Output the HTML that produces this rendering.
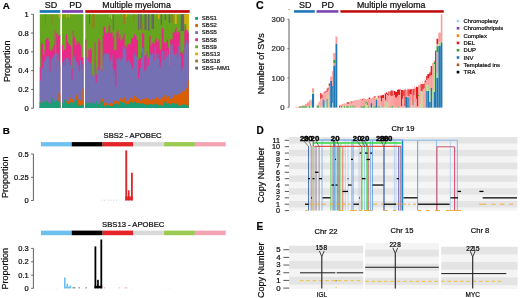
<!DOCTYPE html>
<html lang="en"><head><meta charset="utf-8"><title>Figure</title>
<style>
html,body{margin:0;padding:0;background:#fff;}
body{width:520px;height:298px;overflow:hidden;}
svg{display:block;font-family:"Liberation Sans",Arial,Helvetica,sans-serif;filter:blur(0.3px);}
text{stroke:#111;stroke-width:0.22px;paint-order:stroke fill;}
</style></head><body>
<svg width="520" height="298" viewBox="0 0 520 298">
<rect x="0" y="0" width="520" height="298" fill="#ffffff"/>
<text x="2.80" y="8.80" font-size="9.8" text-anchor="start" font-weight="bold" fill="#000">A</text>
<text x="2.80" y="133.90" font-size="9.8" text-anchor="start" font-weight="bold" fill="#000">B</text>
<text x="256.00" y="9.10" font-size="10.6" text-anchor="start" font-weight="bold" fill="#000">C</text>
<text x="256.60" y="133.50" font-size="10" text-anchor="start" font-weight="bold" fill="#000">D</text>
<text x="256.60" y="230.10" font-size="10" text-anchor="start" font-weight="bold" fill="#000">E</text>
<g id="pA">
<rect x="39.80" y="14.20" width="20.50" height="93.80" fill="#66a61e"/>
<path d="M39.80,108.00L39.80,67.00L40.80,67.00L40.80,42.50L41.80,42.50L41.80,44.00L43.20,44.00L43.20,55.00L44.40,55.00L44.40,50.00L45.30,50.00L45.30,40.00L46.30,40.00L46.30,38.26L47.45,38.26L47.45,38.33L48.60,38.33L48.60,41.00L49.60,41.00L49.60,50.00L50.60,50.00L50.60,51.00L51.60,51.00L51.60,47.42L52.55,47.42L52.55,50.46L53.50,50.46L53.50,45.00L54.60,45.00L54.60,30.00L55.40,30.00L55.40,68.00L56.20,68.00L56.20,33.00L57.40,33.00L57.40,36.00L58.50,36.00L58.50,34.95L59.40,34.95L59.40,34.71L60.30,34.71L60.30,108.00Z" fill="#e7298a"/>
<path d="M39.80,108.00L39.80,81.00L40.80,81.00L40.80,58.00L41.80,58.00L41.80,68.00L43.20,68.00L43.20,61.00L44.40,61.00L44.40,61.60L45.30,61.60L45.30,56.00L46.30,56.00L46.30,57.62L47.45,57.62L47.45,55.94L48.60,55.94L48.60,57.00L49.60,57.00L49.60,71.50L50.60,71.50L50.60,60.00L51.60,60.00L51.60,58.15L52.55,58.15L52.55,56.52L53.50,56.52L53.50,55.00L54.60,55.00L54.60,53.50L55.40,53.50L55.40,68.50L56.20,68.50L56.20,53.50L57.40,53.50L57.40,53.50L58.50,53.50L58.50,59.77L59.40,59.77L59.40,65.82L60.30,65.82L60.30,108.00Z" fill="#7570b3"/>
<path d="M39.80,108.00L39.80,102.20L40.85,102.20L40.85,102.39L41.90,102.39L41.90,102.47L42.95,102.47L42.95,102.71L44.00,102.71L44.00,101.58L45.00,101.58L45.00,101.88L46.00,101.88L46.00,100.45L47.00,100.45L47.00,101.14L48.00,101.14L48.00,103.31L49.00,103.31L49.00,102.84L50.00,102.84L50.00,103.24L51.00,103.24L51.00,98.18L52.00,98.18L52.00,98.75L53.00,98.75L53.00,101.59L54.00,101.59L54.00,102.07L55.00,102.07L55.00,102.12L56.00,102.12L56.00,100.22L57.20,100.22L57.20,100.55L58.40,100.55L58.40,93.00L59.40,93.00L59.40,94.18L60.30,94.18L60.30,108.00Z" fill="#d95f02"/>
<path d="M39.80,108.00L39.80,102.20L40.85,102.20L40.85,102.39L41.90,102.39L41.90,102.47L42.95,102.47L42.95,102.71L44.00,102.71L44.00,101.58L45.00,101.58L45.00,101.88L46.00,101.88L46.00,100.45L47.00,100.45L47.00,101.14L48.00,101.14L48.00,103.31L49.00,103.31L49.00,102.84L50.00,102.84L50.00,103.24L51.00,103.24L51.00,98.18L52.00,98.18L52.00,98.75L53.00,98.75L53.00,101.59L54.00,101.59L54.00,102.07L55.00,102.07L55.00,102.12L56.00,102.12L56.00,100.22L57.20,100.22L57.20,100.55L58.40,100.55L58.40,101.25L59.40,101.25L59.40,102.43L60.30,102.43L60.30,108.00Z" fill="#1b9e77"/>
<rect x="62.00" y="14.20" width="21.50" height="93.80" fill="#66a61e"/>
<path d="M62.00,108.00L62.00,45.00L63.20,45.00L63.20,50.87L64.07,50.87L64.07,49.21L64.93,49.21L64.93,49.87L65.80,49.87L65.80,34.60L67.00,34.60L67.00,42.00L68.40,42.00L68.40,44.00L69.40,44.00L69.40,45.00L70.60,45.00L70.60,46.00L71.40,46.00L71.40,69.00L72.60,69.00L72.60,30.60L73.60,30.60L73.60,38.51L74.40,38.51L74.40,36.23L75.20,36.23L75.20,45.03L76.40,45.03L76.40,40.87L77.60,40.87L77.60,43.52L78.70,43.52L78.70,41.80L79.80,41.80L79.80,45.00L81.20,45.00L81.20,57.00L82.30,57.00L82.30,57.60L83.50,57.60L83.50,108.00Z" fill="#e7298a"/>
<path d="M62.00,108.00L62.00,62.00L63.20,62.00L63.20,65.67L64.07,65.67L64.07,59.87L64.93,59.87L64.93,65.76L65.80,65.76L65.80,58.00L67.00,58.00L67.00,58.00L68.40,58.00L68.40,60.00L69.40,60.00L69.40,65.00L70.60,65.00L70.60,60.00L71.40,60.00L71.40,79.60L72.60,79.60L72.60,58.00L73.60,58.00L73.60,58.31L74.40,58.31L74.40,55.81L75.20,55.81L75.20,60.09L76.40,60.09L76.40,62.35L77.60,62.35L77.60,65.07L78.70,65.07L78.70,71.54L79.80,71.54L79.80,60.00L81.20,60.00L81.20,69.00L82.30,69.00L82.30,64.00L83.50,64.00L83.50,108.00Z" fill="#7570b3"/>
<path d="M62.00,108.00L62.00,102.97L63.00,102.97L63.00,103.02L64.00,103.02L64.00,99.48L65.40,99.48L65.40,101.62L66.60,101.62L66.60,100.99L67.53,100.99L67.53,101.22L68.47,101.22L68.47,101.25L69.40,101.25L69.40,98.32L70.40,98.32L70.40,97.39L71.40,97.39L71.40,99.44L72.30,99.44L72.30,99.13L73.20,99.13L73.20,102.49L74.10,102.49L74.10,101.62L75.00,101.62L75.00,95.45L75.90,95.45L75.90,94.61L76.80,94.61L76.80,95.72L77.70,95.72L77.70,99.47L78.85,99.47L78.85,98.87L80.00,98.87L80.00,100.50L81.15,100.50L81.15,101.21L82.30,101.21L82.30,89.37L83.50,89.37L83.50,108.00Z" fill="#d95f02"/>
<path d="M62.00,108.00L62.00,102.97L63.00,102.97L63.00,103.02L64.00,103.02L64.00,99.48L65.40,99.48L65.40,101.62L66.60,101.62L66.60,103.20L67.53,103.20L67.53,103.95L68.47,103.95L68.47,103.80L69.40,103.80L69.40,101.64L70.40,101.64L70.40,102.37L71.40,102.37L71.40,103.06L72.30,103.06L72.30,102.51L73.20,102.51L73.20,102.49L74.10,102.49L74.10,101.62L75.00,101.62L75.00,99.99L75.90,99.99L75.90,100.05L76.80,100.05L76.80,98.85L77.70,98.85L77.70,105.49L78.85,105.49L78.85,104.35L80.00,104.35L80.00,105.22L81.15,105.22L81.15,105.72L82.30,105.72L82.30,104.52L83.50,104.52L83.50,108.00Z" fill="#1b9e77"/>
<rect x="85.30" y="14.20" width="103.50" height="93.80" fill="#66a61e"/>
<path d="M85.30,108.00L85.30,39.50L86.40,39.50L86.40,59.05L87.35,59.05L87.35,57.18L88.30,57.18L88.30,49.50L89.30,49.50L89.30,50.67L90.15,50.67L90.15,48.07L91.00,48.07L91.00,50.00L92.00,50.00L92.00,74.93L92.87,74.93L92.87,76.52L93.73,76.52L93.73,76.48L94.60,76.48L94.60,42.00L95.60,42.00L95.60,74.00L96.80,74.00L96.80,67.00L98.20,67.00L98.20,38.78L99.30,38.78L99.30,41.28L100.40,41.28L100.40,69.85L101.50,69.85L101.50,71.57L102.60,71.57L102.60,36.00L103.40,36.00L103.40,26.27L104.20,26.27L104.20,26.88L105.00,26.88L105.00,32.51L106.20,32.51L106.20,33.80L107.40,33.80L107.40,32.15L108.60,32.15L108.60,25.68L109.40,25.68L109.40,24.87L110.20,24.87L110.20,33.45L111.40,33.45L111.40,31.72L112.60,31.72L112.60,37.69L113.40,37.69L113.40,35.57L114.20,35.57L114.20,50.00L115.20,50.00L115.20,50.00L116.40,50.00L116.40,32.52L117.50,32.52L117.50,30.37L118.60,30.37L118.60,38.36L119.50,38.36L119.50,34.56L120.40,34.56L120.40,40.46L121.50,40.46L121.50,39.21L122.60,39.21L122.60,36.52L123.60,36.52L123.60,33.45L124.60,33.45L124.60,46.22L125.45,46.22L125.45,45.22L126.30,45.22L126.30,47.49L127.30,47.49L127.30,43.84L128.30,43.84L128.30,44.00L129.60,44.00L129.60,44.85L130.40,44.85L130.40,42.53L131.20,42.53L131.20,38.00L132.30,38.00L132.30,38.00L133.60,38.00L133.60,35.35L134.40,35.35L134.40,33.85L135.20,33.85L135.20,36.00L136.60,36.00L136.60,40.00L138.00,40.00L138.00,59.51L139.00,59.51L139.00,58.29L140.00,58.29L140.00,58.29L141.00,58.29L141.00,52.50L142.00,52.50L142.00,33.22L143.10,33.22L143.10,33.75L144.20,33.75L144.20,55.43L145.35,55.43L145.35,55.02L146.50,55.02L146.50,51.50L147.60,51.50L147.60,57.50L149.00,57.50L149.00,36.40L149.80,36.40L149.80,35.45L150.60,35.45L150.60,46.32L151.60,46.32L151.60,43.09L152.60,43.09L152.60,42.17L153.60,42.17L153.60,44.21L154.60,44.21L154.60,40.50L155.80,40.50L155.80,38.22L156.75,38.22L156.75,42.02L157.70,42.02L157.70,40.73L158.65,40.73L158.65,39.24L159.60,39.24L159.60,49.50L160.60,49.50L160.60,49.50L161.60,49.50L161.60,27.39L162.60,27.39L162.60,29.01L163.60,29.01L163.60,42.33L164.70,42.33L164.70,43.60L165.80,43.60L165.80,42.10L166.90,42.10L166.90,39.58L168.00,39.58L168.00,47.50L169.00,47.50L169.00,66.50L170.20,66.50L170.20,39.06L171.45,39.06L171.45,39.81L172.70,39.81L172.70,32.26L173.75,32.26L173.75,32.54L174.80,32.54L174.80,29.50L175.70,29.50L175.70,27.61L176.60,27.61L176.60,32.45L177.40,32.45L177.40,32.54L178.20,32.54L178.20,32.34L179.20,32.34L179.20,31.02L180.20,31.02L180.20,52.50L181.20,52.50L181.20,51.66L182.30,51.66L182.30,54.25L183.40,54.25L183.40,50.50L184.30,50.50L184.30,30.97L185.30,30.97L185.30,27.31L186.30,27.31L186.30,28.68L187.30,28.68L187.30,32.50L188.80,32.50L188.80,108.00Z" fill="#e7298a"/>
<path d="M85.30,108.00L85.30,57.00L86.40,57.00L86.40,59.05L87.35,59.05L87.35,57.18L88.30,57.18L88.30,62.00L89.30,62.00L89.30,63.66L90.15,63.66L90.15,63.16L91.00,63.16L91.00,60.00L92.00,60.00L92.00,74.93L92.87,74.93L92.87,76.52L93.73,76.52L93.73,76.48L94.60,76.48L94.60,63.00L95.60,63.00L95.60,82.60L96.80,82.60L96.80,67.00L98.20,67.00L98.20,69.95L99.30,69.95L99.30,65.15L100.40,65.15L100.40,69.85L101.50,69.85L101.50,71.57L102.60,71.57L102.60,55.00L103.40,55.00L103.40,57.54L104.20,57.54L104.20,52.88L105.00,52.88L105.00,53.27L106.20,53.27L106.20,53.98L107.40,53.98L107.40,53.18L108.60,53.18L108.60,54.83L109.40,54.83L109.40,61.81L110.20,61.81L110.20,59.73L111.40,59.73L111.40,55.03L112.60,55.03L112.60,67.80L113.40,67.80L113.40,75.54L114.20,75.54L114.20,70.00L115.20,70.00L115.20,86.70L116.40,86.70L116.40,58.27L117.50,58.27L117.50,59.55L118.60,59.55L118.60,57.61L119.50,57.61L119.50,56.90L120.40,56.90L120.40,60.64L121.50,60.64L121.50,57.82L122.60,57.82L122.60,46.13L123.60,46.13L123.60,47.78L124.60,47.78L124.60,49.20L125.45,49.20L125.45,47.01L126.30,47.01L126.30,62.01L127.30,62.01L127.30,60.89L128.30,60.89L128.30,60.00L129.60,60.00L129.60,64.17L130.40,64.17L130.40,62.48L131.20,62.48L131.20,67.00L132.30,67.00L132.30,69.00L133.60,69.00L133.60,54.37L134.40,54.37L134.40,52.16L135.20,52.16L135.20,56.00L136.60,56.00L136.60,57.00L138.00,57.00L138.00,78.79L139.00,78.79L139.00,74.50L140.00,74.50L140.00,67.88L141.00,67.88L141.00,56.50L142.00,56.50L142.00,47.52L143.10,47.52L143.10,48.49L144.20,48.49L144.20,70.90L145.35,70.90L145.35,69.26L146.50,69.26L146.50,54.50L147.60,54.50L147.60,65.50L149.00,65.50L149.00,53.16L149.80,53.16L149.80,52.18L150.60,52.18L150.60,55.62L151.60,55.62L151.60,53.44L152.60,53.44L152.60,53.31L153.60,53.31L153.60,60.46L154.60,60.46L154.60,46.50L155.80,46.50L155.80,54.15L156.75,54.15L156.75,57.96L157.70,57.96L157.70,53.52L158.65,53.52L158.65,59.10L159.60,59.10L159.60,67.50L160.60,67.50L160.60,62.50L161.60,62.50L161.60,50.22L162.60,50.22L162.60,52.09L163.60,52.09L163.60,60.10L164.70,60.10L164.70,51.37L165.80,51.37L165.80,57.09L166.90,57.09L166.90,51.17L168.00,51.17L168.00,54.50L169.00,54.50L169.00,66.50L170.20,66.50L170.20,45.00L171.45,45.00L171.45,43.93L172.70,43.93L172.70,50.13L173.75,50.13L173.75,54.97L174.80,54.97L174.80,53.20L175.70,53.20L175.70,54.36L176.60,54.36L176.60,51.94L177.40,51.94L177.40,57.86L178.20,57.86L178.20,46.30L179.20,46.30L179.20,40.80L180.20,40.80L180.20,56.50L181.20,56.50L181.20,70.74L182.30,70.74L182.30,67.16L183.40,67.16L183.40,54.50L184.30,54.50L184.30,45.44L185.30,45.44L185.30,43.01L186.30,43.01L186.30,40.38L187.30,40.38L187.30,43.50L188.80,43.50L188.80,108.00Z" fill="#7570b3"/>
<path d="M85.30,108.00L85.30,103.32L86.24,103.32L86.24,103.04L87.18,103.04L87.18,103.84L88.12,103.84L88.12,102.92L89.06,102.92L89.06,103.66L90.00,103.66L90.00,102.79L91.00,102.79L91.00,102.29L92.00,102.29L92.00,103.01L93.00,103.01L93.00,102.26L94.00,102.26L94.00,103.89L95.40,103.89L95.40,100.91L96.20,100.91L96.20,100.95L97.00,100.95L97.00,103.88L98.20,103.88L98.20,104.52L99.40,104.52L99.40,103.40L100.60,103.40L100.60,98.91L101.80,98.91L101.80,98.79L103.00,98.79L103.00,102.83L104.00,102.83L104.00,102.51L105.00,102.51L105.00,103.10L106.00,103.10L106.00,102.68L107.00,102.68L107.00,104.36L108.00,104.36L108.00,104.20L109.00,104.20L109.00,103.69L110.00,103.69L110.00,102.95L111.00,102.95L111.00,103.29L112.00,103.29L112.00,103.83L113.00,103.83L113.00,101.71L113.80,101.71L113.80,101.02L114.60,101.02L114.60,101.08L115.80,101.08L115.80,100.78L117.00,100.78L117.00,102.90L118.00,102.90L118.00,101.49L119.00,101.49L119.00,96.68L120.00,96.68L120.00,98.22L121.00,98.22L121.00,98.97L122.00,98.97L122.00,99.40L123.00,99.40L123.00,97.78L124.00,97.78L124.00,97.15L125.00,97.15L125.00,97.83L126.00,97.83L126.00,101.49L127.00,101.49L127.00,102.67L128.00,102.67L128.00,100.39L129.00,100.39L129.00,100.48L130.00,100.48L130.00,97.78L131.00,97.78L131.00,96.08L132.00,96.08L132.00,98.90L133.00,98.90L133.00,98.41L134.00,98.41L134.00,95.68L135.00,95.68L135.00,97.24L136.00,97.24L136.00,97.39L137.00,97.39L137.00,98.89L138.00,98.89L138.00,98.48L139.00,98.48L139.00,99.52L140.00,99.52L140.00,100.87L141.00,100.87L141.00,99.80L142.00,99.80L142.00,98.92L143.00,98.92L143.00,97.16L144.00,97.16L144.00,98.86L145.00,98.86L145.00,99.46L146.00,99.46L146.00,98.03L147.00,98.03L147.00,98.41L148.00,98.41L148.00,98.76L149.00,98.76L149.00,100.46L150.00,100.46L150.00,100.28L151.00,100.28L151.00,96.93L152.00,96.93L152.00,98.67L153.00,98.67L153.00,100.21L154.00,100.21L154.00,99.26L155.00,99.26L155.00,99.82L156.00,99.82L156.00,96.96L157.00,96.96L157.00,97.19L158.00,97.19L158.00,98.43L159.00,98.43L159.00,98.66L160.00,98.66L160.00,99.17L161.00,99.17L161.00,98.90L161.87,98.90L161.87,97.16L162.73,97.16L162.73,97.63L163.60,97.63L163.60,95.09L164.60,95.09L164.60,96.18L165.50,96.18L165.50,94.96L166.40,94.96L166.40,98.05L167.20,98.05L167.20,98.44L168.00,98.44L168.00,96.19L169.40,96.19L169.40,100.58L170.20,100.58L170.20,98.65L171.00,98.65L171.00,95.36L172.00,95.36L172.00,97.65L173.00,97.65L173.00,95.47L174.00,95.47L174.00,94.68L175.00,94.68L175.00,95.65L176.00,95.65L176.00,95.17L177.10,95.17L177.10,93.84L178.20,93.84L178.20,94.16L179.13,94.16L179.13,93.73L180.07,93.73L180.07,93.58L181.00,93.58L181.00,92.54L182.10,92.54L182.10,91.37L183.20,91.37L183.20,91.97L184.30,91.97L184.30,90.46L185.15,90.46L185.15,89.87L186.00,89.87L186.00,88.17L187.30,88.17L187.30,80.68L188.80,80.68L188.80,108.00Z" fill="#d95f02"/>
<path d="M85.30,108.00L85.30,103.32L86.24,103.32L86.24,103.04L87.18,103.04L87.18,103.84L88.12,103.84L88.12,102.92L89.06,102.92L89.06,103.66L90.00,103.66L90.00,102.79L91.00,102.79L91.00,102.29L92.00,102.29L92.00,103.01L93.00,103.01L93.00,102.26L94.00,102.26L94.00,103.89L95.40,103.89L95.40,100.91L96.20,100.91L96.20,100.95L97.00,100.95L97.00,103.88L98.20,103.88L98.20,104.52L99.40,104.52L99.40,103.40L100.60,103.40L100.60,100.56L101.80,100.56L101.80,101.72L103.00,101.72L103.00,102.83L104.00,102.83L104.00,106.36L105.00,106.36L105.00,106.17L106.00,106.17L106.00,105.03L107.00,105.03L107.00,105.29L108.00,105.29L108.00,105.29L109.00,105.29L109.00,106.02L110.00,106.02L110.00,105.88L111.00,105.88L111.00,105.10L112.00,105.10L112.00,106.09L113.00,106.09L113.00,103.70L113.80,103.70L113.80,103.93L114.60,103.93L114.60,104.07L115.80,104.07L115.80,103.19L117.00,103.19L117.00,104.54L118.00,104.54L118.00,104.87L119.00,104.87L119.00,102.37L120.00,102.37L120.00,101.47L121.00,101.47L121.00,102.44L122.00,102.44L122.00,102.26L123.00,102.26L123.00,102.42L124.00,102.42L124.00,102.60L125.00,102.60L125.00,102.31L126.00,102.31L126.00,104.13L127.00,104.13L127.00,104.54L128.00,104.54L128.00,103.96L129.00,103.96L129.00,103.30L130.00,103.30L130.00,101.84L131.00,101.84L131.00,102.12L132.00,102.12L132.00,102.82L133.00,102.82L133.00,102.24L134.00,102.24L134.00,101.47L135.00,101.47L135.00,101.29L136.00,101.29L136.00,102.91L137.00,102.91L137.00,103.33L138.00,103.33L138.00,102.93L139.00,102.93L139.00,103.68L140.00,103.68L140.00,103.71L141.00,103.71L141.00,102.85L142.00,102.85L142.00,103.37L143.00,103.37L143.00,104.33L144.00,104.33L144.00,104.08L145.00,104.08L145.00,104.17L146.00,104.17L146.00,104.74L147.00,104.74L147.00,103.81L148.00,103.81L148.00,104.39L149.00,104.39L149.00,104.72L150.00,104.72L150.00,104.02L151.00,104.02L151.00,104.28L152.00,104.28L152.00,104.64L153.00,104.64L153.00,104.60L154.00,104.60L154.00,103.83L155.00,103.83L155.00,103.37L156.00,103.37L156.00,103.80L157.00,103.80L157.00,104.03L158.00,104.03L158.00,105.24L159.00,105.24L159.00,104.70L160.00,104.70L160.00,104.86L161.00,104.86L161.00,104.74L161.87,104.74L161.87,105.68L162.73,105.68L162.73,105.10L163.60,105.10L163.60,102.78L164.60,102.78L164.60,101.56L165.50,101.56L165.50,100.95L166.40,100.95L166.40,103.84L167.20,103.84L167.20,104.25L168.00,104.25L168.00,103.53L169.40,103.53L169.40,103.74L170.20,103.74L170.20,104.55L171.00,104.55L171.00,103.07L172.00,103.07L172.00,103.04L173.00,103.04L173.00,104.58L174.00,104.58L174.00,103.62L175.00,103.62L175.00,103.47L176.00,103.47L176.00,103.55L177.10,103.55L177.10,103.23L178.20,103.23L178.20,105.50L179.13,105.50L179.13,105.56L180.07,105.56L180.07,105.51L181.00,105.51L181.00,104.56L182.10,104.56L182.10,104.77L183.20,104.77L183.20,104.24L184.30,104.24L184.30,104.21L185.15,104.21L185.15,105.33L186.00,105.33L186.00,105.30L187.30,105.30L187.30,105.33L188.80,105.33L188.80,108.00Z" fill="#1b9e77"/>
<rect x="45.00" y="14.20" width="1.00" height="11.40" fill="#a6761d"/>
<rect x="51.50" y="14.20" width="1.00" height="10.80" fill="#a6761d"/>
<rect x="58.60" y="14.20" width="1.70" height="2.80" fill="#e6ab02"/>
<rect x="59.60" y="14.20" width="0.70" height="4.80" fill="#e6ab02"/>
<rect x="66.20" y="14.20" width="1.00" height="3.30" fill="#e6ab02"/>
<rect x="68.70" y="14.20" width="1.00" height="3.30" fill="#e6ab02"/>
<rect x="89.00" y="14.20" width="1.00" height="9.40" fill="#666666"/>
<rect x="92.50" y="14.20" width="2.00" height="13.80" fill="#a6761d"/>
<rect x="109.10" y="14.20" width="1.00" height="2.80" fill="#e6ab02"/>
<rect x="111.00" y="14.20" width="1.00" height="4.80" fill="#e6ab02"/>
<rect x="112.80" y="14.20" width="0.90" height="16.40" fill="#666666"/>
<rect x="123.60" y="14.20" width="1.40" height="9.80" fill="#a6761d"/>
<rect x="125.90" y="14.20" width="0.90" height="2.80" fill="#e6ab02"/>
<rect x="133.30" y="14.20" width="1.00" height="7.80" fill="#a6761d"/>
<rect x="138.00" y="14.20" width="1.20" height="15.80" fill="#666666"/>
<rect x="140.20" y="14.20" width="1.40" height="14.80" fill="#666666"/>
<rect x="141.60" y="23.00" width="1.00" height="8.00" fill="#a6761d"/>
<rect x="144.50" y="14.20" width="2.00" height="15.80" fill="#666666"/>
<rect x="148.00" y="14.20" width="1.50" height="16.80" fill="#666666"/>
<rect x="151.50" y="14.20" width="2.50" height="14.80" fill="#666666"/>
<rect x="158.00" y="14.20" width="1.60" height="4.30" fill="#e6ab02"/>
<rect x="160.60" y="14.20" width="1.40" height="10.80" fill="#666666"/>
<rect x="164.60" y="14.20" width="1.40" height="5.80" fill="#666666"/>
<rect x="168.70" y="14.20" width="1.50" height="8.80" fill="#666666"/>
<rect x="171.00" y="14.20" width="1.70" height="7.80" fill="#a6761d"/>
<rect x="174.70" y="14.20" width="2.00" height="9.80" fill="#e6ab02"/>
<rect x="180.70" y="14.20" width="3.60" height="16.80" fill="#666666"/>
<rect x="184.30" y="14.20" width="2.20" height="9.80" fill="#e6ab02"/>
<rect x="186.50" y="14.20" width="2.30" height="15.80" fill="#e6ab02"/>
</g>
<rect x="39.70" y="10.10" width="20.60" height="2.70" fill="#1874b8"/>
<rect x="62.00" y="10.10" width="21.20" height="2.70" fill="#7b3fb0"/>
<rect x="85.30" y="10.10" width="104.40" height="2.70" fill="#bf0a0a"/>
<text x="51.00" y="7.80" font-size="9" text-anchor="middle" font-weight="normal" fill="#0d0d0d">SD</text>
<text x="75.40" y="7.80" font-size="9" text-anchor="middle" font-weight="normal" fill="#0d0d0d">PD</text>
<text x="136.60" y="7.80" font-size="8.8" text-anchor="middle" font-weight="normal" fill="#0d0d0d">Multiple myeloma</text>
<line x1="33.40" y1="14.20" x2="33.40" y2="108.20" stroke="#4d4d4d" stroke-width="0.9"/>
<line x1="31.00" y1="14.30" x2="33.40" y2="14.30" stroke="#4d4d4d" stroke-width="0.8"/>
<text x="28.70" y="16.90" font-size="7.5" text-anchor="end" font-weight="normal" fill="#0d0d0d">1</text>
<line x1="31.00" y1="33.08" x2="33.40" y2="33.08" stroke="#4d4d4d" stroke-width="0.8"/>
<text x="28.70" y="35.68" font-size="7.5" text-anchor="end" font-weight="normal" fill="#0d0d0d">0.8</text>
<line x1="31.00" y1="51.86" x2="33.40" y2="51.86" stroke="#4d4d4d" stroke-width="0.8"/>
<text x="28.70" y="54.46" font-size="7.5" text-anchor="end" font-weight="normal" fill="#0d0d0d">0.6</text>
<line x1="31.00" y1="70.64" x2="33.40" y2="70.64" stroke="#4d4d4d" stroke-width="0.8"/>
<text x="28.70" y="73.24" font-size="7.5" text-anchor="end" font-weight="normal" fill="#0d0d0d">0.4</text>
<line x1="31.00" y1="89.42" x2="33.40" y2="89.42" stroke="#4d4d4d" stroke-width="0.8"/>
<text x="28.70" y="92.02" font-size="7.5" text-anchor="end" font-weight="normal" fill="#0d0d0d">0.2</text>
<line x1="31.00" y1="108.20" x2="33.40" y2="108.20" stroke="#4d4d4d" stroke-width="0.8"/>
<text x="28.70" y="110.80" font-size="7.5" text-anchor="end" font-weight="normal" fill="#0d0d0d">0</text>
<text transform="translate(9.50,61.30) rotate(-90) scale(1.0,1)" font-size="9.0" text-anchor="middle" fill="#0d0d0d">Proportion</text>
<rect x="195.20" y="17.00" width="2.80" height="2.80" fill="#1b9e77"/>
<text x="201.80" y="20.20" font-size="5.9" text-anchor="start" font-weight="normal" fill="#222">SBS1</text>
<rect x="195.20" y="24.10" width="2.80" height="2.80" fill="#d95f02"/>
<text x="201.80" y="27.30" font-size="5.9" text-anchor="start" font-weight="normal" fill="#222">SBS2</text>
<rect x="195.20" y="31.20" width="2.80" height="2.80" fill="#7570b3"/>
<text x="201.80" y="34.40" font-size="5.9" text-anchor="start" font-weight="normal" fill="#222">SBS5</text>
<rect x="195.20" y="38.30" width="2.80" height="2.80" fill="#e7298a"/>
<text x="201.80" y="41.50" font-size="5.9" text-anchor="start" font-weight="normal" fill="#222">SBS8</text>
<rect x="195.20" y="45.40" width="2.80" height="2.80" fill="#66a61e"/>
<text x="201.80" y="48.60" font-size="5.9" text-anchor="start" font-weight="normal" fill="#222">SBS9</text>
<rect x="195.20" y="52.50" width="2.80" height="2.80" fill="#e6ab02"/>
<text x="201.80" y="55.70" font-size="5.9" text-anchor="start" font-weight="normal" fill="#222">SBS13</text>
<rect x="195.20" y="59.60" width="2.80" height="2.80" fill="#a6761d"/>
<text x="201.80" y="62.80" font-size="5.9" text-anchor="start" font-weight="normal" fill="#222">SBS18</text>
<rect x="195.20" y="66.70" width="2.80" height="2.80" fill="#666666"/>
<text x="201.80" y="69.90" font-size="5.9" text-anchor="start" font-weight="normal" fill="#222">SBS−MM1</text>
<g id="pC">
<rect x="295.50" y="106.80" width="3.50" height="0.80" fill="#fb9a99"/>
<rect x="299.00" y="106.00" width="3.00" height="0.60" fill="#fb9a99"/>
<rect x="299.00" y="106.60" width="3.00" height="1.00" fill="#33a02c"/>
<rect x="302.00" y="105.40" width="3.00" height="1.00" fill="#fb9a99"/>
<rect x="302.00" y="106.40" width="3.00" height="1.20" fill="#33a02c"/>
<rect x="305.00" y="103.80" width="2.00" height="2.80" fill="#fb9a99"/>
<rect x="305.00" y="106.60" width="2.00" height="1.00" fill="#33a02c"/>
<rect x="307.00" y="102.20" width="2.00" height="3.80" fill="#fb9a99"/>
<rect x="307.00" y="106.00" width="2.00" height="1.60" fill="#b2df8a"/>
<rect x="309.00" y="100.40" width="1.40" height="5.90" fill="#fb9a99"/>
<rect x="309.00" y="106.30" width="1.40" height="1.30" fill="#33a02c"/>
<rect x="310.40" y="99.40" width="1.40" height="1.00" fill="#fdbf6f"/>
<rect x="310.40" y="100.40" width="1.40" height="4.60" fill="#fb9a99"/>
<rect x="310.40" y="105.00" width="1.40" height="2.60" fill="#b2df8a"/>
<rect x="312.00" y="88.30" width="2.10" height="3.70" fill="#fb9a99"/>
<rect x="312.00" y="92.00" width="2.10" height="2.00" fill="#b2df8a"/>
<rect x="312.00" y="94.00" width="2.10" height="13.60" fill="#1f78b4"/>
<rect x="316.70" y="104.60" width="1.50" height="1.60" fill="#fb9a99"/>
<rect x="316.70" y="106.20" width="1.50" height="1.40" fill="#33a02c"/>
<rect x="318.20" y="102.40" width="1.00" height="3.10" fill="#fb9a99"/>
<rect x="318.20" y="105.50" width="1.00" height="2.10" fill="#33a02c"/>
<rect x="319.20" y="101.20" width="1.00" height="3.30" fill="#fb9a99"/>
<rect x="319.20" y="104.50" width="1.00" height="3.10" fill="#b2df8a"/>
<rect x="320.20" y="93.00" width="1.20" height="6.00" fill="#e31a1c"/>
<rect x="320.20" y="99.00" width="1.20" height="8.60" fill="#fb9a99"/>
<rect x="321.40" y="94.50" width="1.30" height="3.50" fill="#e31a1c"/>
<rect x="321.40" y="98.00" width="1.30" height="8.00" fill="#fb9a99"/>
<rect x="321.40" y="106.00" width="1.30" height="1.60" fill="#b2df8a"/>
<rect x="322.70" y="92.60" width="1.00" height="6.40" fill="#fb9a99"/>
<rect x="322.70" y="99.00" width="1.00" height="8.60" fill="#1f78b4"/>
<rect x="323.70" y="92.00" width="1.00" height="8.50" fill="#fb9a99"/>
<rect x="323.70" y="100.50" width="1.00" height="7.10" fill="#1f78b4"/>
<rect x="324.70" y="91.00" width="1.00" height="2.00" fill="#e31a1c"/>
<rect x="324.70" y="93.00" width="1.00" height="10.00" fill="#fb9a99"/>
<rect x="324.70" y="103.00" width="1.00" height="4.60" fill="#b2df8a"/>
<rect x="325.70" y="90.50" width="1.00" height="11.50" fill="#fb9a99"/>
<rect x="325.70" y="102.00" width="1.00" height="5.60" fill="#b2df8a"/>
<rect x="326.70" y="88.50" width="1.00" height="3.50" fill="#e31a1c"/>
<rect x="326.70" y="92.00" width="1.00" height="7.00" fill="#fb9a99"/>
<rect x="326.70" y="99.00" width="1.00" height="8.60" fill="#1f78b4"/>
<rect x="327.70" y="87.50" width="1.00" height="2.50" fill="#e31a1c"/>
<rect x="327.70" y="90.00" width="1.00" height="5.00" fill="#fb9a99"/>
<rect x="327.70" y="95.00" width="1.00" height="12.60" fill="#b2df8a"/>
<rect x="328.70" y="83.50" width="1.50" height="2.30" fill="#e31a1c"/>
<rect x="328.70" y="85.80" width="1.50" height="21.80" fill="#fb9a99"/>
<rect x="330.20" y="76.50" width="2.00" height="4.50" fill="#fb9a99"/>
<rect x="330.20" y="81.00" width="2.00" height="26.60" fill="#1f78b4"/>
<rect x="332.20" y="71.00" width="1.10" height="15.00" fill="#fb9a99"/>
<rect x="332.20" y="86.00" width="1.10" height="17.00" fill="#1f78b4"/>
<rect x="332.20" y="103.00" width="1.10" height="4.60" fill="#a6cee3"/>
<rect x="333.30" y="53.00" width="2.20" height="7.00" fill="#fb9a99"/>
<rect x="333.30" y="60.00" width="2.20" height="3.00" fill="#33a02c"/>
<rect x="333.30" y="63.00" width="2.20" height="2.60" fill="#fb9a99"/>
<rect x="333.30" y="65.60" width="2.20" height="42.00" fill="#1f78b4"/>
<rect x="335.50" y="36.40" width="1.80" height="7.60" fill="#fb9a99"/>
<rect x="335.50" y="44.00" width="1.80" height="63.60" fill="#1f78b4"/>
<rect x="339.00" y="105.43" width="1.06" height="0.38" fill="#fb9a99"/>
<rect x="339.00" y="105.82" width="1.06" height="1.78" fill="#33a02c"/>
<rect x="340.04" y="104.80" width="1.06" height="2.80" fill="#fb9a99"/>
<rect x="341.07" y="104.72" width="1.06" height="1.27" fill="#fb9a99"/>
<rect x="341.07" y="105.99" width="1.06" height="1.61" fill="#33a02c"/>
<rect x="342.11" y="104.01" width="1.06" height="2.54" fill="#fb9a99"/>
<rect x="342.11" y="106.54" width="1.06" height="1.06" fill="#b2df8a"/>
<rect x="343.14" y="103.68" width="1.06" height="2.12" fill="#fb9a99"/>
<rect x="343.14" y="105.81" width="1.06" height="1.79" fill="#b2df8a"/>
<rect x="344.18" y="103.34" width="1.06" height="2.51" fill="#fb9a99"/>
<rect x="344.18" y="105.85" width="1.06" height="1.75" fill="#33a02c"/>
<rect x="345.21" y="103.76" width="1.06" height="1.94" fill="#fb9a99"/>
<rect x="345.21" y="105.70" width="1.06" height="1.90" fill="#b2df8a"/>
<rect x="346.25" y="102.44" width="1.06" height="3.99" fill="#fb9a99"/>
<rect x="346.25" y="106.43" width="1.06" height="1.17" fill="#33a02c"/>
<rect x="347.28" y="102.10" width="1.06" height="1.98" fill="#e31a1c"/>
<rect x="347.28" y="104.08" width="1.06" height="1.82" fill="#fb9a99"/>
<rect x="347.28" y="105.90" width="1.06" height="1.70" fill="#33a02c"/>
<rect x="348.32" y="102.21" width="1.06" height="1.66" fill="#e31a1c"/>
<rect x="348.32" y="103.86" width="1.06" height="2.67" fill="#fb9a99"/>
<rect x="348.32" y="106.53" width="1.06" height="1.07" fill="#33a02c"/>
<rect x="349.35" y="101.36" width="1.06" height="4.57" fill="#fb9a99"/>
<rect x="349.35" y="105.93" width="1.06" height="1.67" fill="#b2df8a"/>
<rect x="350.39" y="101.47" width="1.06" height="4.18" fill="#fb9a99"/>
<rect x="350.39" y="105.65" width="1.06" height="1.95" fill="#33a02c"/>
<rect x="351.42" y="101.33" width="1.06" height="1.69" fill="#e31a1c"/>
<rect x="351.42" y="103.02" width="1.06" height="4.58" fill="#fb9a99"/>
<rect x="352.46" y="101.26" width="1.06" height="4.16" fill="#fb9a99"/>
<rect x="352.46" y="105.42" width="1.06" height="2.18" fill="#33a02c"/>
<rect x="353.49" y="100.26" width="1.06" height="7.34" fill="#fb9a99"/>
<rect x="354.53" y="100.04" width="1.06" height="5.76" fill="#fb9a99"/>
<rect x="354.53" y="105.80" width="1.06" height="1.80" fill="#33a02c"/>
<rect x="355.56" y="100.41" width="1.06" height="7.19" fill="#fb9a99"/>
<rect x="356.60" y="99.71" width="1.06" height="7.89" fill="#fb9a99"/>
<rect x="357.63" y="99.72" width="1.06" height="7.88" fill="#fb9a99"/>
<rect x="358.67" y="99.84" width="1.06" height="7.76" fill="#fb9a99"/>
<rect x="359.70" y="98.73" width="1.06" height="8.87" fill="#fb9a99"/>
<rect x="360.74" y="99.49" width="1.06" height="6.64" fill="#fb9a99"/>
<rect x="360.74" y="106.14" width="1.06" height="1.46" fill="#33a02c"/>
<rect x="361.77" y="99.00" width="1.06" height="1.55" fill="#e31a1c"/>
<rect x="361.77" y="100.56" width="1.06" height="5.90" fill="#fb9a99"/>
<rect x="361.77" y="106.46" width="1.06" height="1.14" fill="#33a02c"/>
<rect x="362.81" y="98.23" width="1.06" height="8.08" fill="#fb9a99"/>
<rect x="362.81" y="106.30" width="1.06" height="1.30" fill="#33a02c"/>
<rect x="363.84" y="98.39" width="1.06" height="7.67" fill="#fb9a99"/>
<rect x="363.84" y="106.06" width="1.06" height="1.54" fill="#33a02c"/>
<rect x="364.88" y="98.39" width="1.06" height="9.21" fill="#fb9a99"/>
<rect x="365.91" y="98.54" width="1.06" height="1.50" fill="#e31a1c"/>
<rect x="365.91" y="100.03" width="1.06" height="3.91" fill="#fb9a99"/>
<rect x="365.91" y="103.95" width="1.06" height="3.65" fill="#b2df8a"/>
<rect x="366.95" y="98.46" width="1.06" height="1.21" fill="#e31a1c"/>
<rect x="366.95" y="99.68" width="1.06" height="6.64" fill="#fb9a99"/>
<rect x="366.95" y="106.32" width="1.06" height="1.28" fill="#33a02c"/>
<rect x="367.98" y="97.83" width="1.06" height="8.77" fill="#fb9a99"/>
<rect x="367.98" y="106.60" width="1.06" height="1.00" fill="#33a02c"/>
<rect x="369.02" y="97.59" width="1.06" height="1.68" fill="#e31a1c"/>
<rect x="369.02" y="99.27" width="1.06" height="8.33" fill="#fb9a99"/>
<rect x="370.05" y="97.68" width="1.06" height="9.92" fill="#fb9a99"/>
<rect x="371.09" y="97.46" width="1.06" height="2.08" fill="#e31a1c"/>
<rect x="371.09" y="99.54" width="1.06" height="8.06" fill="#fb9a99"/>
<rect x="372.12" y="97.45" width="1.06" height="7.96" fill="#fb9a99"/>
<rect x="372.12" y="105.40" width="1.06" height="2.20" fill="#b2df8a"/>
<rect x="373.16" y="96.47" width="1.06" height="10.05" fill="#fb9a99"/>
<rect x="373.16" y="106.52" width="1.06" height="1.08" fill="#33a02c"/>
<rect x="374.19" y="96.37" width="1.06" height="1.41" fill="#e31a1c"/>
<rect x="374.19" y="97.78" width="1.06" height="8.82" fill="#fb9a99"/>
<rect x="374.19" y="106.60" width="1.06" height="1.00" fill="#33a02c"/>
<rect x="375.23" y="96.10" width="1.06" height="1.44" fill="#e31a1c"/>
<rect x="375.23" y="97.54" width="1.06" height="8.01" fill="#fb9a99"/>
<rect x="375.23" y="105.55" width="1.06" height="2.05" fill="#33a02c"/>
<rect x="376.26" y="96.36" width="1.06" height="2.33" fill="#e31a1c"/>
<rect x="376.26" y="98.69" width="1.06" height="6.81" fill="#fb9a99"/>
<rect x="376.26" y="105.51" width="1.06" height="2.09" fill="#b2df8a"/>
<rect x="377.30" y="95.66" width="1.06" height="11.94" fill="#fb9a99"/>
<rect x="378.33" y="95.80" width="1.06" height="2.04" fill="#e31a1c"/>
<rect x="378.33" y="97.84" width="1.06" height="8.35" fill="#fb9a99"/>
<rect x="378.33" y="106.19" width="1.06" height="1.41" fill="#33a02c"/>
<rect x="379.37" y="95.39" width="1.06" height="11.18" fill="#fb9a99"/>
<rect x="379.37" y="106.57" width="1.06" height="1.03" fill="#33a02c"/>
<rect x="380.40" y="95.56" width="1.06" height="2.43" fill="#e31a1c"/>
<rect x="380.40" y="97.99" width="1.06" height="7.55" fill="#fb9a99"/>
<rect x="380.40" y="105.55" width="1.06" height="2.05" fill="#a6cee3"/>
<rect x="381.44" y="94.59" width="1.06" height="13.01" fill="#fb9a99"/>
<rect x="382.47" y="94.20" width="1.06" height="3.30" fill="#e31a1c"/>
<rect x="382.47" y="97.50" width="1.06" height="8.17" fill="#fb9a99"/>
<rect x="382.47" y="105.67" width="1.06" height="1.93" fill="#33a02c"/>
<rect x="383.51" y="93.49" width="1.06" height="12.44" fill="#fb9a99"/>
<rect x="383.51" y="105.93" width="1.06" height="1.67" fill="#b2df8a"/>
<rect x="384.54" y="93.21" width="1.06" height="14.39" fill="#fb9a99"/>
<rect x="385.58" y="92.67" width="1.06" height="14.93" fill="#fb9a99"/>
<rect x="386.61" y="91.73" width="1.06" height="3.68" fill="#e31a1c"/>
<rect x="386.61" y="95.41" width="1.06" height="11.15" fill="#fb9a99"/>
<rect x="386.61" y="106.57" width="1.06" height="1.03" fill="#33a02c"/>
<rect x="387.65" y="91.42" width="1.06" height="4.79" fill="#e31a1c"/>
<rect x="387.65" y="96.22" width="1.06" height="11.38" fill="#fb9a99"/>
<rect x="388.68" y="91.23" width="1.06" height="16.37" fill="#fb9a99"/>
<rect x="389.72" y="91.41" width="1.06" height="3.58" fill="#e31a1c"/>
<rect x="389.72" y="94.99" width="1.06" height="11.37" fill="#fb9a99"/>
<rect x="389.72" y="106.36" width="1.06" height="1.24" fill="#33a02c"/>
<rect x="390.75" y="90.45" width="1.06" height="5.73" fill="#e31a1c"/>
<rect x="390.75" y="96.18" width="1.06" height="11.42" fill="#fb9a99"/>
<rect x="391.79" y="90.52" width="1.06" height="5.53" fill="#e31a1c"/>
<rect x="391.79" y="96.05" width="1.06" height="9.76" fill="#fb9a99"/>
<rect x="391.79" y="105.81" width="1.06" height="1.79" fill="#33a02c"/>
<rect x="392.82" y="90.74" width="1.06" height="16.86" fill="#fb9a99"/>
<rect x="393.86" y="90.10" width="1.06" height="5.70" fill="#e31a1c"/>
<rect x="393.86" y="95.81" width="1.06" height="8.39" fill="#fb9a99"/>
<rect x="393.86" y="104.20" width="1.06" height="3.40" fill="#b2df8a"/>
<rect x="394.89" y="90.39" width="1.06" height="4.64" fill="#e31a1c"/>
<rect x="394.89" y="95.04" width="1.06" height="12.56" fill="#fb9a99"/>
<rect x="395.93" y="89.94" width="1.06" height="3.93" fill="#e31a1c"/>
<rect x="395.93" y="93.86" width="1.06" height="11.65" fill="#fb9a99"/>
<rect x="395.93" y="105.51" width="1.06" height="2.09" fill="#33a02c"/>
<rect x="396.96" y="89.81" width="1.06" height="6.13" fill="#e31a1c"/>
<rect x="396.96" y="95.94" width="1.06" height="11.66" fill="#fb9a99"/>
<rect x="398.00" y="89.45" width="1.06" height="5.40" fill="#e31a1c"/>
<rect x="398.00" y="94.85" width="1.06" height="11.73" fill="#fb9a99"/>
<rect x="398.00" y="106.58" width="1.06" height="1.02" fill="#33a02c"/>
<rect x="399.03" y="89.56" width="1.06" height="5.43" fill="#e31a1c"/>
<rect x="399.03" y="95.00" width="1.06" height="12.60" fill="#fb9a99"/>
<rect x="400.07" y="88.88" width="1.06" height="18.72" fill="#fb9a99"/>
<rect x="401.10" y="88.55" width="1.06" height="4.94" fill="#e31a1c"/>
<rect x="401.10" y="93.49" width="1.06" height="12.41" fill="#fb9a99"/>
<rect x="401.10" y="105.90" width="1.06" height="1.70" fill="#33a02c"/>
<rect x="402.14" y="88.49" width="1.06" height="4.56" fill="#e31a1c"/>
<rect x="402.14" y="93.05" width="1.06" height="14.55" fill="#fb9a99"/>
<rect x="403.17" y="88.49" width="1.06" height="6.02" fill="#e31a1c"/>
<rect x="403.17" y="94.50" width="1.06" height="13.10" fill="#fb9a99"/>
<rect x="404.21" y="88.45" width="1.06" height="15.02" fill="#fb9a99"/>
<rect x="404.21" y="103.47" width="1.06" height="4.13" fill="#1f78b4"/>
<rect x="405.24" y="88.45" width="1.06" height="5.80" fill="#e31a1c"/>
<rect x="405.24" y="94.24" width="1.06" height="12.35" fill="#fb9a99"/>
<rect x="405.24" y="106.60" width="1.06" height="1.00" fill="#33a02c"/>
<rect x="406.28" y="88.62" width="1.06" height="6.00" fill="#e31a1c"/>
<rect x="406.28" y="94.62" width="1.06" height="12.98" fill="#fb9a99"/>
<rect x="407.31" y="88.27" width="1.06" height="6.24" fill="#e31a1c"/>
<rect x="407.31" y="94.51" width="1.06" height="13.09" fill="#fb9a99"/>
<rect x="408.35" y="88.40" width="1.06" height="6.47" fill="#e31a1c"/>
<rect x="408.35" y="94.87" width="1.06" height="11.40" fill="#fb9a99"/>
<rect x="408.35" y="106.27" width="1.06" height="1.33" fill="#33a02c"/>
<rect x="409.38" y="88.28" width="1.06" height="6.57" fill="#e31a1c"/>
<rect x="409.38" y="94.86" width="1.06" height="12.74" fill="#fb9a99"/>
<rect x="410.42" y="87.95" width="1.06" height="6.83" fill="#e31a1c"/>
<rect x="410.42" y="94.78" width="1.06" height="8.77" fill="#fb9a99"/>
<rect x="410.42" y="103.55" width="1.06" height="4.05" fill="#1f78b4"/>
<rect x="411.45" y="87.21" width="1.06" height="6.70" fill="#e31a1c"/>
<rect x="411.45" y="93.91" width="1.06" height="7.93" fill="#fb9a99"/>
<rect x="411.45" y="101.83" width="1.06" height="5.77" fill="#1f78b4"/>
<rect x="412.49" y="86.70" width="1.06" height="20.90" fill="#fb9a99"/>
<rect x="413.52" y="85.74" width="1.06" height="8.13" fill="#e31a1c"/>
<rect x="413.52" y="93.87" width="1.06" height="13.73" fill="#fb9a99"/>
<rect x="414.56" y="85.10" width="1.06" height="6.73" fill="#e31a1c"/>
<rect x="414.56" y="91.83" width="1.06" height="14.48" fill="#fb9a99"/>
<rect x="414.56" y="106.31" width="1.06" height="1.29" fill="#33a02c"/>
<rect x="415.59" y="84.52" width="1.06" height="7.86" fill="#e31a1c"/>
<rect x="415.59" y="92.38" width="1.06" height="15.22" fill="#fb9a99"/>
<rect x="416.63" y="84.08" width="1.06" height="7.60" fill="#e31a1c"/>
<rect x="416.63" y="91.68" width="1.06" height="13.86" fill="#fb9a99"/>
<rect x="416.63" y="105.54" width="1.06" height="2.06" fill="#33a02c"/>
<rect x="417.66" y="84.38" width="1.06" height="8.58" fill="#e31a1c"/>
<rect x="417.66" y="92.95" width="1.06" height="12.18" fill="#fb9a99"/>
<rect x="417.66" y="105.14" width="1.06" height="2.46" fill="#b2df8a"/>
<rect x="418.70" y="83.88" width="1.06" height="22.20" fill="#fb9a99"/>
<rect x="418.70" y="106.08" width="1.06" height="1.52" fill="#33a02c"/>
<rect x="419.73" y="82.82" width="1.06" height="6.51" fill="#e31a1c"/>
<rect x="419.73" y="89.33" width="1.06" height="15.10" fill="#fb9a99"/>
<rect x="419.73" y="104.43" width="1.06" height="3.17" fill="#b2df8a"/>
<rect x="420.77" y="81.49" width="1.06" height="7.35" fill="#e31a1c"/>
<rect x="420.77" y="88.84" width="1.06" height="17.36" fill="#fb9a99"/>
<rect x="420.77" y="106.20" width="1.06" height="1.40" fill="#33a02c"/>
<rect x="421.80" y="81.27" width="1.06" height="6.32" fill="#e31a1c"/>
<rect x="421.80" y="87.59" width="1.06" height="20.01" fill="#fb9a99"/>
<rect x="422.84" y="80.61" width="1.06" height="25.67" fill="#fb9a99"/>
<rect x="422.84" y="106.28" width="1.06" height="1.32" fill="#33a02c"/>
<rect x="423.87" y="79.03" width="1.06" height="27.41" fill="#fb9a99"/>
<rect x="423.87" y="106.44" width="1.06" height="1.16" fill="#33a02c"/>
<rect x="424.91" y="77.65" width="1.06" height="29.95" fill="#fb9a99"/>
<rect x="425.94" y="75.30" width="1.06" height="9.30" fill="#e31a1c"/>
<rect x="425.94" y="84.60" width="1.06" height="23.00" fill="#fb9a99"/>
<rect x="426.98" y="74.71" width="1.06" height="6.82" fill="#e31a1c"/>
<rect x="426.98" y="81.53" width="1.06" height="26.07" fill="#fb9a99"/>
<rect x="428.01" y="73.40" width="1.06" height="9.57" fill="#e31a1c"/>
<rect x="428.01" y="82.97" width="1.06" height="24.63" fill="#fb9a99"/>
<rect x="429.05" y="72.74" width="1.06" height="9.42" fill="#e31a1c"/>
<rect x="429.05" y="82.16" width="1.06" height="23.40" fill="#fb9a99"/>
<rect x="429.05" y="105.56" width="1.06" height="2.04" fill="#33a02c"/>
<rect x="430.08" y="70.36" width="1.06" height="8.62" fill="#e31a1c"/>
<rect x="430.08" y="78.98" width="1.06" height="28.62" fill="#fb9a99"/>
<rect x="431.12" y="67.41" width="1.06" height="8.64" fill="#e31a1c"/>
<rect x="431.12" y="76.06" width="1.06" height="30.41" fill="#fb9a99"/>
<rect x="431.12" y="106.47" width="1.06" height="1.13" fill="#33a02c"/>
<rect x="432.15" y="64.55" width="1.06" height="7.77" fill="#e31a1c"/>
<rect x="432.15" y="72.32" width="1.06" height="33.36" fill="#fb9a99"/>
<rect x="432.15" y="105.68" width="1.06" height="1.92" fill="#b2df8a"/>
<rect x="433.19" y="62.50" width="1.06" height="8.77" fill="#e31a1c"/>
<rect x="433.19" y="71.27" width="1.06" height="34.91" fill="#fb9a99"/>
<rect x="433.19" y="106.18" width="1.06" height="1.42" fill="#33a02c"/>
<rect x="370.70" y="13.00" width="1.50" height="94.60" fill="#fff"/>
<rect x="375.70" y="13.00" width="1.50" height="94.60" fill="#fff"/>
<rect x="365.00" y="13.00" width="2.80" height="94.60" fill="#fff"/>
<rect x="381.00" y="13.00" width="3.00" height="94.60" fill="#fff"/>
<rect x="385.00" y="13.00" width="3.00" height="94.60" fill="#fff"/>
<rect x="394.00" y="13.00" width="3.00" height="94.60" fill="#fff"/>
<rect x="401.00" y="13.00" width="4.60" height="94.60" fill="#fff"/>
<rect x="405.60" y="13.00" width="2.00" height="94.60" fill="#fff"/>
<rect x="407.60" y="13.00" width="2.00" height="94.60" fill="#fff"/>
<rect x="409.60" y="13.00" width="1.40" height="94.60" fill="#fff"/>
<rect x="411.00" y="13.00" width="1.60" height="94.60" fill="#fff"/>
<rect x="412.60" y="13.00" width="2.00" height="94.60" fill="#fff"/>
<rect x="414.60" y="13.00" width="1.40" height="94.60" fill="#fff"/>
<rect x="416.00" y="13.00" width="2.00" height="94.60" fill="#fff"/>
<rect x="418.00" y="13.00" width="1.40" height="94.60" fill="#fff"/>
<rect x="419.40" y="13.00" width="1.30" height="94.60" fill="#fff"/>
<rect x="420.70" y="13.00" width="2.00" height="94.60" fill="#fff"/>
<rect x="422.70" y="13.00" width="2.00" height="94.60" fill="#fff"/>
<rect x="424.70" y="13.00" width="1.50" height="94.60" fill="#fff"/>
<rect x="426.20" y="13.00" width="1.20" height="94.60" fill="#fff"/>
<rect x="427.40" y="13.00" width="1.80" height="94.60" fill="#fff"/>
<rect x="429.20" y="13.00" width="1.50" height="94.60" fill="#fff"/>
<rect x="430.70" y="13.00" width="1.60" height="94.60" fill="#fff"/>
<rect x="432.30" y="13.00" width="1.50" height="94.60" fill="#fff"/>
<rect x="433.80" y="13.00" width="1.20" height="94.60" fill="#fff"/>
<rect x="435.00" y="13.00" width="1.50" height="94.60" fill="#fff"/>
<rect x="436.50" y="13.00" width="1.90" height="94.60" fill="#fff"/>
<rect x="438.40" y="13.00" width="2.40" height="94.60" fill="#fff"/>
<rect x="440.80" y="13.00" width="1.60" height="94.60" fill="#fff"/>
<rect x="370.70" y="98.40" width="1.50" height="4.80" fill="#fb9a99"/>
<rect x="370.70" y="103.20" width="1.50" height="4.40" fill="#1f78b4"/>
<rect x="375.70" y="98.00" width="1.50" height="1.60" fill="#fdbf6f"/>
<rect x="375.70" y="99.60" width="1.50" height="8.00" fill="#1f78b4"/>
<rect x="365.00" y="98.89" width="0.96" height="4.00" fill="#fb9a99"/>
<rect x="365.00" y="102.89" width="0.96" height="0.85" fill="#33a02c"/>
<rect x="365.00" y="103.74" width="0.96" height="3.86" fill="#b2df8a"/>
<rect x="365.93" y="99.35" width="0.96" height="2.58" fill="#fb9a99"/>
<rect x="365.93" y="101.93" width="0.96" height="1.10" fill="#33a02c"/>
<rect x="365.93" y="103.03" width="0.96" height="4.57" fill="#b2df8a"/>
<rect x="366.87" y="98.91" width="0.96" height="3.36" fill="#fb9a99"/>
<rect x="366.87" y="102.27" width="0.96" height="2.72" fill="#33a02c"/>
<rect x="366.87" y="104.99" width="0.96" height="2.61" fill="#b2df8a"/>
<rect x="381.00" y="95.60" width="1.03" height="6.00" fill="#e31a1c"/>
<rect x="381.00" y="101.60" width="1.03" height="6.00" fill="#fb9a99"/>
<rect x="382.00" y="95.08" width="1.03" height="3.20" fill="#e31a1c"/>
<rect x="382.00" y="98.28" width="1.03" height="9.32" fill="#fb9a99"/>
<rect x="383.00" y="94.88" width="1.03" height="3.20" fill="#e31a1c"/>
<rect x="383.00" y="98.08" width="1.03" height="9.52" fill="#fb9a99"/>
<rect x="385.00" y="93.44" width="1.03" height="7.00" fill="#e31a1c"/>
<rect x="385.00" y="100.44" width="1.03" height="1.84" fill="#fb9a99"/>
<rect x="385.00" y="102.28" width="1.03" height="5.32" fill="#b2df8a"/>
<rect x="386.00" y="92.42" width="1.03" height="1.75" fill="#e31a1c"/>
<rect x="386.00" y="94.17" width="1.03" height="7.65" fill="#fb9a99"/>
<rect x="386.00" y="101.82" width="1.03" height="5.78" fill="#b2df8a"/>
<rect x="387.00" y="93.55" width="1.03" height="1.75" fill="#e31a1c"/>
<rect x="387.00" y="95.30" width="1.03" height="6.80" fill="#fb9a99"/>
<rect x="387.00" y="102.10" width="1.03" height="5.50" fill="#b2df8a"/>
<rect x="394.00" y="91.04" width="1.03" height="4.00" fill="#e31a1c"/>
<rect x="394.00" y="95.04" width="1.03" height="12.56" fill="#fb9a99"/>
<rect x="395.00" y="91.57" width="1.03" height="6.00" fill="#e31a1c"/>
<rect x="395.00" y="97.57" width="1.03" height="10.03" fill="#fb9a99"/>
<rect x="396.00" y="91.86" width="1.03" height="6.00" fill="#e31a1c"/>
<rect x="396.00" y="97.86" width="1.03" height="9.74" fill="#fb9a99"/>
<rect x="401.00" y="89.87" width="1.18" height="16.23" fill="#e31a1c"/>
<rect x="401.00" y="106.10" width="1.18" height="1.50" fill="#fb9a99"/>
<rect x="402.15" y="89.93" width="1.18" height="8.96" fill="#e31a1c"/>
<rect x="402.15" y="98.89" width="1.18" height="8.71" fill="#fb9a99"/>
<rect x="403.30" y="90.45" width="1.18" height="5.60" fill="#e31a1c"/>
<rect x="403.30" y="96.05" width="1.18" height="11.55" fill="#fb9a99"/>
<rect x="404.45" y="89.44" width="1.18" height="16.66" fill="#e31a1c"/>
<rect x="404.45" y="106.10" width="1.18" height="1.50" fill="#fb9a99"/>
<rect x="405.60" y="90.00" width="2.00" height="7.00" fill="#fb9a99"/>
<rect x="405.60" y="97.00" width="2.00" height="10.60" fill="#1f78b4"/>
<rect x="407.60" y="89.16" width="1.03" height="6.75" fill="#e31a1c"/>
<rect x="407.60" y="95.91" width="1.03" height="1.85" fill="#fb9a99"/>
<rect x="407.60" y="97.76" width="1.03" height="9.84" fill="#1f78b4"/>
<rect x="408.60" y="89.93" width="1.03" height="6.75" fill="#e31a1c"/>
<rect x="408.60" y="96.68" width="1.03" height="0.54" fill="#fb9a99"/>
<rect x="408.60" y="97.21" width="1.03" height="10.39" fill="#1f78b4"/>
<rect x="409.60" y="89.20" width="1.40" height="4.80" fill="#e31a1c"/>
<rect x="409.60" y="94.00" width="1.40" height="13.60" fill="#fb9a99"/>
<rect x="411.00" y="88.86" width="0.83" height="5.92" fill="#e31a1c"/>
<rect x="411.00" y="94.78" width="0.83" height="5.92" fill="#fb9a99"/>
<rect x="411.00" y="100.70" width="0.83" height="6.90" fill="#b2df8a"/>
<rect x="411.80" y="89.49" width="0.83" height="11.88" fill="#fb9a99"/>
<rect x="411.80" y="101.36" width="0.83" height="6.24" fill="#b2df8a"/>
<rect x="412.60" y="88.93" width="1.03" height="16.20" fill="#e31a1c"/>
<rect x="412.60" y="105.13" width="1.03" height="2.47" fill="#fb9a99"/>
<rect x="413.60" y="88.71" width="1.03" height="6.48" fill="#e31a1c"/>
<rect x="413.60" y="95.19" width="1.03" height="12.41" fill="#fb9a99"/>
<rect x="414.60" y="87.50" width="1.40" height="15.10" fill="#fb9a99"/>
<rect x="414.60" y="102.60" width="1.40" height="5.00" fill="#a6cee3"/>
<rect x="416.00" y="86.74" width="1.03" height="12.10" fill="#e31a1c"/>
<rect x="416.00" y="98.84" width="1.03" height="8.76" fill="#fb9a99"/>
<rect x="417.00" y="87.06" width="1.03" height="19.04" fill="#e31a1c"/>
<rect x="417.00" y="106.10" width="1.03" height="1.50" fill="#fb9a99"/>
<rect x="418.00" y="85.50" width="1.40" height="9.50" fill="#fb9a99"/>
<rect x="418.00" y="95.00" width="1.40" height="1.50" fill="#33a02c"/>
<rect x="418.00" y="96.50" width="1.40" height="11.10" fill="#fb9a99"/>
<rect x="419.40" y="85.00" width="1.30" height="19.00" fill="#fb9a99"/>
<rect x="419.40" y="104.00" width="1.30" height="3.60" fill="#b2df8a"/>
<rect x="420.70" y="84.08" width="1.03" height="7.16" fill="#e31a1c"/>
<rect x="420.70" y="91.24" width="1.03" height="0.30" fill="#fb9a99"/>
<rect x="420.70" y="91.54" width="1.03" height="16.06" fill="#b2df8a"/>
<rect x="421.70" y="84.09" width="1.03" height="7.27" fill="#e31a1c"/>
<rect x="421.70" y="91.36" width="1.03" height="0.30" fill="#fb9a99"/>
<rect x="421.70" y="91.66" width="1.03" height="15.94" fill="#b2df8a"/>
<rect x="422.70" y="84.09" width="1.03" height="5.05" fill="#e31a1c"/>
<rect x="422.70" y="89.14" width="1.03" height="18.46" fill="#fb9a99"/>
<rect x="423.70" y="83.31" width="1.03" height="5.05" fill="#e31a1c"/>
<rect x="423.70" y="88.36" width="1.03" height="19.24" fill="#fb9a99"/>
<rect x="424.70" y="80.50" width="1.50" height="2.00" fill="#e31a1c"/>
<rect x="424.70" y="82.50" width="1.50" height="25.10" fill="#fb9a99"/>
<rect x="426.20" y="76.00" width="1.20" height="4.00" fill="#e31a1c"/>
<rect x="426.20" y="80.00" width="1.20" height="5.00" fill="#fb9a99"/>
<rect x="426.20" y="85.00" width="1.20" height="6.00" fill="#b2df8a"/>
<rect x="426.20" y="91.00" width="1.20" height="16.60" fill="#1f78b4"/>
<rect x="427.40" y="74.00" width="1.80" height="4.50" fill="#e31a1c"/>
<rect x="427.40" y="78.50" width="1.80" height="6.50" fill="#fb9a99"/>
<rect x="427.40" y="85.00" width="1.80" height="6.00" fill="#b2df8a"/>
<rect x="427.40" y="91.00" width="1.80" height="16.60" fill="#1f78b4"/>
<rect x="429.20" y="72.50" width="1.50" height="3.50" fill="#e31a1c"/>
<rect x="429.20" y="76.00" width="1.50" height="14.00" fill="#fb9a99"/>
<rect x="429.20" y="90.00" width="1.50" height="12.00" fill="#b2df8a"/>
<rect x="429.20" y="102.00" width="1.50" height="5.60" fill="#1f78b4"/>
<rect x="430.70" y="66.00" width="1.60" height="9.00" fill="#e31a1c"/>
<rect x="430.70" y="75.00" width="1.60" height="13.00" fill="#fb9a99"/>
<rect x="430.70" y="88.00" width="1.60" height="19.60" fill="#1f78b4"/>
<rect x="432.30" y="63.00" width="1.50" height="27.00" fill="#fb9a99"/>
<rect x="432.30" y="90.00" width="1.50" height="9.00" fill="#b2df8a"/>
<rect x="432.30" y="99.00" width="1.50" height="8.60" fill="#a6cee3"/>
<rect x="433.80" y="60.50" width="1.20" height="1.50" fill="#fb9a99"/>
<rect x="433.80" y="62.00" width="1.20" height="2.00" fill="#33a02c"/>
<rect x="433.80" y="64.00" width="1.20" height="28.00" fill="#b2df8a"/>
<rect x="433.80" y="92.00" width="1.20" height="15.60" fill="#1f78b4"/>
<rect x="435.00" y="50.50" width="1.50" height="1.50" fill="#33a02c"/>
<rect x="435.00" y="52.00" width="1.50" height="55.60" fill="#1f78b4"/>
<rect x="436.50" y="38.70" width="1.90" height="5.30" fill="#e31a1c"/>
<rect x="436.50" y="44.00" width="1.90" height="2.30" fill="#fb9a99"/>
<rect x="436.50" y="46.30" width="1.90" height="5.70" fill="#33a02c"/>
<rect x="436.50" y="52.00" width="1.90" height="21.00" fill="#fb9a99"/>
<rect x="436.50" y="73.00" width="1.90" height="5.00" fill="#b2df8a"/>
<rect x="436.50" y="78.00" width="1.90" height="29.60" fill="#1f78b4"/>
<rect x="438.40" y="32.60" width="2.40" height="9.90" fill="#fb9a99"/>
<rect x="438.40" y="42.50" width="2.40" height="3.50" fill="#b2df8a"/>
<rect x="438.40" y="46.00" width="2.40" height="61.60" fill="#1f78b4"/>
<rect x="440.80" y="14.50" width="1.60" height="28.00" fill="#fb9a99"/>
<rect x="440.80" y="42.50" width="1.60" height="65.10" fill="#1f78b4"/>
</g>
<rect x="294.00" y="10.20" width="20.80" height="2.50" fill="#1874b8"/>
<rect x="316.50" y="10.20" width="21.90" height="2.50" fill="#7b3fb0"/>
<rect x="340.40" y="10.20" width="103.40" height="2.50" fill="#bf0a0a"/>
<rect x="288.20" y="9.20" width="1.60" height="0.60" fill="#777"/>
<text x="305.20" y="7.80" font-size="9" text-anchor="middle" font-weight="normal" fill="#0d0d0d">SD</text>
<text x="327.80" y="7.80" font-size="9" text-anchor="middle" font-weight="normal" fill="#0d0d0d">PD</text>
<text x="391.20" y="7.80" font-size="8.8" text-anchor="middle" font-weight="normal" fill="#0d0d0d">Multiple myeloma</text>
<line x1="289.00" y1="19.30" x2="289.00" y2="107.40" stroke="#4d4d4d" stroke-width="0.9"/>
<line x1="287.40" y1="19.30" x2="289.00" y2="19.30" stroke="#4d4d4d" stroke-width="0.7"/>
<text x="284.60" y="22.10" font-size="7.8" text-anchor="end" font-weight="normal" fill="#333">300</text>
<line x1="287.40" y1="48.65" x2="289.00" y2="48.65" stroke="#4d4d4d" stroke-width="0.7"/>
<text x="284.60" y="51.45" font-size="7.8" text-anchor="end" font-weight="normal" fill="#333">200</text>
<line x1="287.40" y1="78.00" x2="289.00" y2="78.00" stroke="#4d4d4d" stroke-width="0.7"/>
<text x="284.60" y="80.80" font-size="7.8" text-anchor="end" font-weight="normal" fill="#333">100</text>
<line x1="287.40" y1="107.35" x2="289.00" y2="107.35" stroke="#4d4d4d" stroke-width="0.7"/>
<text x="284.60" y="110.15" font-size="7.8" text-anchor="end" font-weight="normal" fill="#333">0</text>
<text transform="translate(264.40,63.80) rotate(-90) scale(1.0,1)" font-size="9" text-anchor="middle" fill="#0d0d0d">Number of SVs</text>
<rect x="456.70" y="19.70" width="2.60" height="2.60" fill="#a6cee3"/>
<text x="463.60" y="23.00" font-size="5.9" text-anchor="start" font-weight="normal" fill="#0d0d0d">Chromoplexy</text>
<rect x="456.70" y="27.00" width="2.60" height="2.60" fill="#7b3fb0"/>
<text x="463.60" y="30.30" font-size="5.9" text-anchor="start" font-weight="normal" fill="#0d0d0d">Chromothripsis</text>
<rect x="456.70" y="34.30" width="2.60" height="2.60" fill="#ff7f00"/>
<text x="463.60" y="37.60" font-size="5.9" text-anchor="start" font-weight="normal" fill="#0d0d0d">Complex</text>
<rect x="456.70" y="41.60" width="2.60" height="2.60" fill="#e31a1c"/>
<text x="463.60" y="44.90" font-size="5.9" text-anchor="start" font-weight="normal" fill="#0d0d0d">DEL</text>
<rect x="456.70" y="48.90" width="2.60" height="2.60" fill="#33a02c"/>
<text x="463.60" y="52.20" font-size="5.9" text-anchor="start" font-weight="normal" fill="#0d0d0d">DUP</text>
<rect x="456.70" y="56.20" width="2.60" height="2.60" fill="#1f78b4"/>
<text x="463.60" y="59.50" font-size="5.9" text-anchor="start" font-weight="normal" fill="#0d0d0d">INV</text>
<rect x="456.70" y="63.50" width="2.60" height="2.60" fill="#b15928"/>
<text x="463.60" y="66.80" font-size="5.9" text-anchor="start" font-weight="normal" fill="#0d0d0d">Templated ins</text>
<rect x="456.70" y="70.80" width="2.60" height="2.60" fill="#000000"/>
<text x="463.60" y="74.10" font-size="5.9" text-anchor="start" font-weight="normal" fill="#0d0d0d">TRA</text>
<rect x="41.00" y="142.10" width="30.85" height="4.30" fill="#6ec0ee"/>
<rect x="71.77" y="142.10" width="30.85" height="4.30" fill="#000000"/>
<rect x="102.54" y="142.10" width="30.85" height="4.30" fill="#e42426"/>
<rect x="133.31" y="142.10" width="30.85" height="4.30" fill="#d9d9d9"/>
<rect x="164.08" y="142.10" width="30.85" height="4.30" fill="#9aca52"/>
<rect x="194.85" y="142.10" width="30.85" height="4.30" fill="#f4a3b4"/>
<text x="132.60" y="137.50" font-size="7.7" text-anchor="middle" font-weight="normal" fill="#0d0d0d">SBS2 - APOBEC</text>
<line x1="33.40" y1="154.00" x2="33.40" y2="200.60" stroke="#4d4d4d" stroke-width="0.9"/>
<line x1="31.00" y1="154.00" x2="33.40" y2="154.00" stroke="#4d4d4d" stroke-width="0.8"/>
<text x="28.70" y="156.60" font-size="7.5" text-anchor="end" font-weight="normal" fill="#0d0d0d">0.5</text>
<line x1="31.00" y1="177.30" x2="33.40" y2="177.30" stroke="#4d4d4d" stroke-width="0.8"/>
<text x="28.70" y="179.90" font-size="7.5" text-anchor="end" font-weight="normal" fill="#0d0d0d">0.25</text>
<line x1="31.00" y1="200.50" x2="33.40" y2="200.50" stroke="#4d4d4d" stroke-width="0.8"/>
<text x="28.70" y="203.10" font-size="7.5" text-anchor="end" font-weight="normal" fill="#0d0d0d">0</text>
<text transform="translate(8.20,177.30) rotate(-90) scale(1.0,1)" font-size="9.0" text-anchor="middle" fill="#0d0d0d">Proportion</text>
<rect x="125.30" y="150.40" width="1.90" height="50.00" fill="#e0262a"/>
<rect x="131.00" y="172.70" width="1.80" height="27.70" fill="#e0262a"/>
<rect x="127.90" y="190.30" width="1.70" height="10.10" fill="#e0262a"/>
<rect x="125.30" y="196.40" width="7.50" height="4.00" fill="#e0262a"/>
<rect x="101.50" y="199.80" width="1.20" height="0.60" fill="#bbbbbb"/>
<rect x="104.00" y="199.80" width="1.20" height="0.60" fill="#bbbbbb"/>
<rect x="108.00" y="199.80" width="1.20" height="0.60" fill="#bbbbbb"/>
<rect x="110.50" y="199.80" width="1.20" height="0.60" fill="#bbbbbb"/>
<rect x="113.00" y="199.80" width="1.20" height="0.60" fill="#bbbbbb"/>
<rect x="116.00" y="199.80" width="1.20" height="0.60" fill="#bbbbbb"/>
<rect x="41.00" y="230.60" width="30.85" height="4.60" fill="#6ec0ee"/>
<rect x="71.77" y="230.60" width="30.85" height="4.60" fill="#000000"/>
<rect x="102.54" y="230.60" width="30.85" height="4.60" fill="#e42426"/>
<rect x="133.31" y="230.60" width="30.85" height="4.60" fill="#d9d9d9"/>
<rect x="164.08" y="230.60" width="30.85" height="4.60" fill="#9aca52"/>
<rect x="194.85" y="230.60" width="30.85" height="4.60" fill="#f4a3b4"/>
<text x="133.20" y="226.50" font-size="7.7" text-anchor="middle" font-weight="normal" fill="#0d0d0d">SBS13 - APOBEC</text>
<line x1="33.40" y1="248.40" x2="33.40" y2="288.40" stroke="#4d4d4d" stroke-width="0.9"/>
<line x1="31.00" y1="248.40" x2="33.40" y2="248.40" stroke="#4d4d4d" stroke-width="0.8"/>
<text x="28.70" y="251.00" font-size="7.5" text-anchor="end" font-weight="normal" fill="#0d0d0d">0.3</text>
<line x1="31.00" y1="261.80" x2="33.40" y2="261.80" stroke="#4d4d4d" stroke-width="0.8"/>
<text x="28.70" y="264.40" font-size="7.5" text-anchor="end" font-weight="normal" fill="#0d0d0d">0.2</text>
<line x1="31.00" y1="275.20" x2="33.40" y2="275.20" stroke="#4d4d4d" stroke-width="0.8"/>
<text x="28.70" y="277.80" font-size="7.5" text-anchor="end" font-weight="normal" fill="#0d0d0d">0.1</text>
<line x1="31.00" y1="288.30" x2="33.40" y2="288.30" stroke="#4d4d4d" stroke-width="0.8"/>
<text x="28.70" y="290.90" font-size="7.5" text-anchor="end" font-weight="normal" fill="#0d0d0d">0</text>
<text transform="translate(8.20,268.80) rotate(-90) scale(1.0,1)" font-size="9.0" text-anchor="middle" fill="#0d0d0d">Proportion</text>
<rect x="64.00" y="277.50" width="1.60" height="10.80" fill="#6ec0ee"/>
<rect x="66.50" y="283.60" width="1.60" height="4.70" fill="#6ec0ee"/>
<rect x="69.60" y="285.40" width="1.50" height="2.90" fill="#6ec0ee"/>
<rect x="64.00" y="286.60" width="7.10" height="1.70" fill="#6ec0ee"/>
<rect x="94.50" y="246.40" width="1.80" height="41.90" fill="#000"/>
<rect x="100.40" y="239.50" width="1.80" height="48.80" fill="#000"/>
<rect x="97.10" y="279.80" width="1.70" height="8.50" fill="#000"/>
<rect x="94.50" y="285.80" width="7.70" height="2.50" fill="#000"/>
<rect x="72.50" y="287.40" width="1.40" height="0.90" fill="#555"/>
<rect x="74.00" y="287.40" width="1.40" height="0.90" fill="#555"/>
<rect x="78.50" y="287.40" width="1.40" height="0.90" fill="#555"/>
<rect x="85.50" y="287.40" width="1.40" height="0.90" fill="#555"/>
<rect x="104.00" y="287.50" width="1.20" height="0.80" fill="#e88"/>
<rect x="118.50" y="287.50" width="1.20" height="0.80" fill="#e88"/>
<rect x="124.50" y="287.50" width="1.20" height="0.80" fill="#e88"/>
<rect x="126.00" y="287.50" width="1.20" height="0.80" fill="#e88"/>
<rect x="45.00" y="287.80" width="1.20" height="0.50" fill="#f3c0c8"/>
<rect x="50.00" y="287.80" width="1.20" height="0.50" fill="#f3c0c8"/>
<rect x="56.00" y="287.80" width="1.20" height="0.50" fill="#f3c0c8"/>
<rect x="131.00" y="287.80" width="1.20" height="0.50" fill="#f3c0c8"/>
<rect x="165.00" y="287.80" width="1.20" height="0.50" fill="#f3c0c8"/>
<rect x="169.00" y="287.80" width="1.20" height="0.50" fill="#f3c0c8"/>
<rect x="289.00" y="137.12" width="228.20" height="73.48" fill="#f4f4f4"/>
<rect x="289.00" y="201.01" width="228.20" height="6.39" fill="#e4e4e4"/>
<rect x="289.00" y="188.23" width="228.20" height="6.39" fill="#e4e4e4"/>
<rect x="289.00" y="175.45" width="228.20" height="6.39" fill="#e4e4e4"/>
<rect x="289.00" y="162.68" width="228.20" height="6.39" fill="#e4e4e4"/>
<rect x="289.00" y="149.89" width="228.20" height="6.39" fill="#e4e4e4"/>
<rect x="289.00" y="137.12" width="228.20" height="6.39" fill="#e4e4e4"/>
<rect x="309.00" y="137.12" width="13.00" height="73.48" fill="#fff" opacity="0.3"/>
<rect x="331.00" y="137.12" width="12.00" height="73.48" fill="#fff" opacity="0.3"/>
<rect x="345.00" y="137.12" width="8.00" height="73.48" fill="#fff" opacity="0.35"/>
<rect x="359.00" y="137.12" width="13.40" height="73.48" fill="#fff" opacity="0.35"/>
<rect x="394.00" y="137.12" width="9.00" height="73.48" fill="#fff" opacity="0.3"/>
<rect x="403.00" y="137.12" width="15.00" height="73.48" fill="#fff" opacity="0.35"/>
<rect x="418.00" y="137.12" width="39.00" height="73.48" fill="#fff" opacity="0.15"/>
<line x1="284.80" y1="210.60" x2="289.00" y2="210.60" stroke="#444" stroke-width="0.9"/>
<text x="280.00" y="213.10" font-size="7.2" text-anchor="end" font-weight="normal" fill="#0d0d0d">0</text>
<line x1="284.80" y1="204.21" x2="289.00" y2="204.21" stroke="#444" stroke-width="0.9"/>
<text x="280.00" y="206.71" font-size="7.2" text-anchor="end" font-weight="normal" fill="#0d0d0d">1</text>
<line x1="284.80" y1="197.82" x2="289.00" y2="197.82" stroke="#444" stroke-width="0.9"/>
<text x="280.00" y="200.32" font-size="7.2" text-anchor="end" font-weight="normal" fill="#0d0d0d">2</text>
<line x1="284.80" y1="191.43" x2="289.00" y2="191.43" stroke="#444" stroke-width="0.9"/>
<text x="280.00" y="193.93" font-size="7.2" text-anchor="end" font-weight="normal" fill="#0d0d0d">3</text>
<line x1="284.80" y1="185.04" x2="289.00" y2="185.04" stroke="#444" stroke-width="0.9"/>
<text x="280.00" y="187.54" font-size="7.2" text-anchor="end" font-weight="normal" fill="#0d0d0d">4</text>
<line x1="284.80" y1="178.65" x2="289.00" y2="178.65" stroke="#444" stroke-width="0.9"/>
<text x="280.00" y="181.15" font-size="7.2" text-anchor="end" font-weight="normal" fill="#0d0d0d">5</text>
<line x1="284.80" y1="172.26" x2="289.00" y2="172.26" stroke="#444" stroke-width="0.9"/>
<text x="280.00" y="174.76" font-size="7.2" text-anchor="end" font-weight="normal" fill="#0d0d0d">6</text>
<line x1="284.80" y1="165.87" x2="289.00" y2="165.87" stroke="#444" stroke-width="0.9"/>
<text x="280.00" y="168.37" font-size="7.2" text-anchor="end" font-weight="normal" fill="#0d0d0d">7</text>
<line x1="284.80" y1="159.48" x2="289.00" y2="159.48" stroke="#444" stroke-width="0.9"/>
<text x="280.00" y="161.98" font-size="7.2" text-anchor="end" font-weight="normal" fill="#0d0d0d">8</text>
<line x1="284.80" y1="153.09" x2="289.00" y2="153.09" stroke="#444" stroke-width="0.9"/>
<text x="280.00" y="155.59" font-size="7.2" text-anchor="end" font-weight="normal" fill="#0d0d0d">9</text>
<line x1="284.80" y1="146.70" x2="289.00" y2="146.70" stroke="#444" stroke-width="0.9"/>
<text x="280.00" y="149.20" font-size="7.2" text-anchor="end" font-weight="normal" fill="#0d0d0d">10</text>
<line x1="284.80" y1="140.31" x2="289.00" y2="140.31" stroke="#444" stroke-width="0.9"/>
<text x="280.00" y="142.81" font-size="7.2" text-anchor="end" font-weight="normal" fill="#0d0d0d">11</text>
<text transform="translate(264.40,175.00) rotate(-90) scale(1.0,1)" font-size="9.0" text-anchor="middle" fill="#0d0d0d">Copy Number</text>
<text x="403.00" y="131.40" font-size="7.6" text-anchor="middle" font-weight="normal" fill="#0d0d0d">Chr 19</text>
<line x1="308.60" y1="146.30" x2="308.60" y2="210.60" stroke="#2f62ad" stroke-width="0.94"/>
<line x1="311.10" y1="146.30" x2="311.10" y2="210.60" stroke="#8a6f90" stroke-width="0.68"/>
<line x1="312.10" y1="146.30" x2="312.10" y2="210.60" stroke="#b07040" stroke-width="0.6"/>
<line x1="313.30" y1="143.50" x2="313.30" y2="210.60" stroke="#7ada7a" stroke-width="0.94"/>
<line x1="315.10" y1="146.30" x2="315.10" y2="210.60" stroke="#8a7590" stroke-width="0.77"/>
<line x1="316.60" y1="146.30" x2="316.60" y2="210.60" stroke="#8f8894" stroke-width="0.68"/>
<line x1="319.10" y1="146.30" x2="319.10" y2="210.60" stroke="#8f8894" stroke-width="0.94"/>
<line x1="322.00" y1="140.50" x2="322.00" y2="210.60" stroke="#7ab4ea" stroke-width="0.94"/>
<line x1="330.70" y1="143.50" x2="330.70" y2="210.60" stroke="#7ada7a" stroke-width="1.02"/>
<line x1="332.20" y1="146.30" x2="332.20" y2="210.60" stroke="#8a7590" stroke-width="0.68"/>
<line x1="334.00" y1="140.50" x2="334.00" y2="210.60" stroke="#2a86d8" stroke-width="1.19"/>
<line x1="335.40" y1="140.50" x2="335.40" y2="210.60" stroke="#7ab4ea" stroke-width="0.85"/>
<line x1="337.20" y1="146.30" x2="337.20" y2="210.60" stroke="#2aa6a6" stroke-width="1.02"/>
<line x1="339.00" y1="146.30" x2="339.00" y2="210.60" stroke="#5a4040" stroke-width="0.94"/>
<line x1="340.80" y1="143.50" x2="340.80" y2="210.60" stroke="#7ada7a" stroke-width="0.94"/>
<line x1="342.80" y1="146.30" x2="342.80" y2="210.60" stroke="#e46a4a" stroke-width="0.94"/>
<line x1="345.30" y1="140.50" x2="345.30" y2="210.60" stroke="#a4caf0" stroke-width="0.77"/>
<line x1="348.00" y1="140.50" x2="348.00" y2="210.60" stroke="#a4caf0" stroke-width="0.77"/>
<line x1="351.50" y1="140.50" x2="351.50" y2="210.60" stroke="#a4caf0" stroke-width="1.1"/>
<line x1="353.00" y1="140.50" x2="353.00" y2="210.60" stroke="#5594de" stroke-width="0.85"/>
<line x1="359.10" y1="140.50" x2="359.10" y2="210.60" stroke="#a4caf0" stroke-width="0.85"/>
<line x1="361.30" y1="146.30" x2="361.30" y2="210.60" stroke="#a85236" stroke-width="0.68"/>
<line x1="362.30" y1="143.50" x2="362.30" y2="210.60" stroke="#7ada7a" stroke-width="0.85"/>
<line x1="364.60" y1="140.50" x2="364.60" y2="210.60" stroke="#a4caf0" stroke-width="1.1"/>
<line x1="367.10" y1="143.50" x2="367.10" y2="210.60" stroke="#2fd650" stroke-width="1.36"/>
<line x1="368.60" y1="146.30" x2="368.60" y2="210.60" stroke="#a85236" stroke-width="0.68"/>
<line x1="370.40" y1="140.50" x2="370.40" y2="210.60" stroke="#7ab4ea" stroke-width="0.94"/>
<line x1="372.40" y1="140.50" x2="372.40" y2="210.60" stroke="#5594de" stroke-width="0.85"/>
<line x1="384.00" y1="146.30" x2="384.00" y2="210.60" stroke="#34569e" stroke-width="1.19"/>
<line x1="394.30" y1="140.50" x2="394.30" y2="210.60" stroke="#a4caf0" stroke-width="0.77"/>
<line x1="396.00" y1="140.50" x2="396.00" y2="210.60" stroke="#a4caf0" stroke-width="0.77"/>
<line x1="398.50" y1="146.30" x2="398.50" y2="210.60" stroke="#8378c4" stroke-width="0.94"/>
<line x1="400.20" y1="146.30" x2="400.20" y2="210.60" stroke="#bc4a64" stroke-width="0.85"/>
<line x1="401.20" y1="146.30" x2="401.20" y2="210.60" stroke="#2aa6a6" stroke-width="0.68"/>
<line x1="402.50" y1="140.50" x2="402.50" y2="210.60" stroke="#1e84e0" stroke-width="1.44"/>
<line x1="417.60" y1="140.50" x2="417.60" y2="210.60" stroke="#70a8e6" stroke-width="1.1"/>
<line x1="450.30" y1="140.50" x2="450.30" y2="210.60" stroke="#a4caf0" stroke-width="0.77"/>
<line x1="457.30" y1="140.50" x2="457.30" y2="210.60" stroke="#7ab4ea" stroke-width="0.94"/>
<line x1="436.80" y1="146.60" x2="436.80" y2="210.60" stroke="#d0708a" stroke-width="1.5"/>
<line x1="436.60" y1="140.00" x2="436.60" y2="146.60" stroke="#8cc0ee" stroke-width="1.0"/>
<line x1="454.60" y1="147.00" x2="454.60" y2="210.60" stroke="#d0506a" stroke-width="1.1"/>
<line x1="319.00" y1="140.00" x2="403.00" y2="140.00" stroke="#4a90e2" stroke-width="1.1"/>
<line x1="403.00" y1="140.20" x2="457.50" y2="140.20" stroke="#7ab0e8" stroke-width="0.9"/>
<line x1="313.00" y1="143.00" x2="401.50" y2="143.00" stroke="#33dd44" stroke-width="1.6"/>
<line x1="314.50" y1="146.30" x2="401.00" y2="146.30" stroke="#e05a50" stroke-width="1.2"/>
<line x1="436.80" y1="146.80" x2="454.60" y2="146.80" stroke="#d0607a" stroke-width="1.1"/>
<line x1="309.00" y1="204.21" x2="313.00" y2="204.21" stroke="#f2a72e" stroke-width="0.9"/>
<line x1="315.00" y1="204.21" x2="319.00" y2="204.21" stroke="#f2a72e" stroke-width="0.9"/>
<line x1="321.00" y1="204.21" x2="326.00" y2="204.21" stroke="#f2a72e" stroke-width="0.9"/>
<line x1="330.00" y1="204.21" x2="334.00" y2="204.21" stroke="#f2a72e" stroke-width="0.9"/>
<line x1="336.00" y1="204.21" x2="340.00" y2="204.21" stroke="#f2a72e" stroke-width="0.9"/>
<line x1="342.00" y1="204.21" x2="346.00" y2="204.21" stroke="#f2a72e" stroke-width="0.9"/>
<line x1="348.00" y1="204.21" x2="350.00" y2="204.21" stroke="#f2a72e" stroke-width="0.9"/>
<line x1="361.00" y1="204.21" x2="362.00" y2="204.21" stroke="#f2a72e" stroke-width="0.9"/>
<line x1="373.00" y1="204.21" x2="377.00" y2="204.21" stroke="#f2a72e" stroke-width="0.9"/>
<line x1="381.00" y1="204.21" x2="383.00" y2="204.21" stroke="#f2a72e" stroke-width="0.9"/>
<line x1="396.00" y1="204.21" x2="400.00" y2="204.21" stroke="#f2a72e" stroke-width="0.9"/>
<line x1="402.00" y1="204.21" x2="406.00" y2="204.21" stroke="#f2a72e" stroke-width="0.9"/>
<line x1="408.00" y1="204.21" x2="410.00" y2="204.21" stroke="#f2a72e" stroke-width="0.9"/>
<line x1="413.00" y1="204.21" x2="416.00" y2="204.21" stroke="#f2a72e" stroke-width="0.9"/>
<line x1="479.00" y1="204.21" x2="486.50" y2="204.21" stroke="#f2a72e" stroke-width="0.9"/>
<line x1="491.50" y1="204.21" x2="495.50" y2="204.21" stroke="#f2a72e" stroke-width="0.9"/>
<line x1="500.00" y1="204.21" x2="504.50" y2="204.21" stroke="#f2a72e" stroke-width="0.9"/>
<line x1="509.00" y1="204.21" x2="513.00" y2="204.21" stroke="#f2a72e" stroke-width="0.9"/>
<line x1="305.00" y1="210.50" x2="307.50" y2="210.50" stroke="#f2a72e" stroke-width="0.9"/>
<line x1="339.00" y1="210.50" x2="343.00" y2="210.50" stroke="#f2a72e" stroke-width="0.9"/>
<line x1="350.00" y1="210.50" x2="357.00" y2="210.50" stroke="#f2a72e" stroke-width="0.9"/>
<line x1="359.00" y1="210.50" x2="361.50" y2="210.50" stroke="#f2a72e" stroke-width="0.9"/>
<line x1="364.00" y1="210.50" x2="372.00" y2="210.50" stroke="#f2a72e" stroke-width="0.9"/>
<line x1="384.50" y1="210.50" x2="388.00" y2="210.50" stroke="#f2a72e" stroke-width="0.9"/>
<line x1="393.00" y1="210.50" x2="396.00" y2="210.50" stroke="#f2a72e" stroke-width="0.9"/>
<line x1="418.00" y1="210.50" x2="421.00" y2="210.50" stroke="#f2a72e" stroke-width="0.9"/>
<line x1="426.00" y1="210.50" x2="429.50" y2="210.50" stroke="#f2a72e" stroke-width="0.9"/>
<line x1="435.00" y1="210.50" x2="440.00" y2="210.50" stroke="#f2a72e" stroke-width="0.9"/>
<line x1="446.00" y1="210.50" x2="461.00" y2="210.50" stroke="#f2a72e" stroke-width="0.9"/>
<line x1="305.00" y1="204.21" x2="308.50" y2="204.21" stroke="#000" stroke-width="1.25"/>
<line x1="308.00" y1="178.65" x2="310.00" y2="178.65" stroke="#000" stroke-width="1.25"/>
<line x1="312.50" y1="178.65" x2="314.50" y2="178.65" stroke="#000" stroke-width="1.25"/>
<line x1="315.00" y1="172.26" x2="318.50" y2="172.26" stroke="#000" stroke-width="1.25"/>
<line x1="319.00" y1="178.65" x2="322.00" y2="178.65" stroke="#000" stroke-width="1.25"/>
<line x1="322.50" y1="197.82" x2="330.50" y2="197.82" stroke="#000" stroke-width="1.25"/>
<line x1="311.00" y1="197.82" x2="312.00" y2="197.82" stroke="#000" stroke-width="1.25"/>
<line x1="331.50" y1="185.04" x2="334.00" y2="185.04" stroke="#000" stroke-width="1.25"/>
<line x1="335.50" y1="185.04" x2="337.50" y2="185.04" stroke="#000" stroke-width="1.25"/>
<line x1="342.50" y1="191.43" x2="348.00" y2="191.43" stroke="#000" stroke-width="1.25"/>
<line x1="335.00" y1="159.48" x2="336.00" y2="159.48" stroke="#000" stroke-width="1.25"/>
<line x1="348.00" y1="185.04" x2="351.50" y2="185.04" stroke="#000" stroke-width="1.25"/>
<line x1="347.60" y1="178.65" x2="348.40" y2="178.65" stroke="#000" stroke-width="1.25"/>
<line x1="351.00" y1="159.48" x2="353.00" y2="159.48" stroke="#000" stroke-width="1.25"/>
<line x1="366.50" y1="159.48" x2="370.00" y2="159.48" stroke="#000" stroke-width="1.25"/>
<line x1="359.60" y1="153.09" x2="361.30" y2="153.09" stroke="#000" stroke-width="1.25"/>
<line x1="365.00" y1="153.09" x2="367.60" y2="153.09" stroke="#000" stroke-width="1.25"/>
<line x1="370.30" y1="153.09" x2="372.00" y2="153.09" stroke="#000" stroke-width="1.25"/>
<line x1="362.00" y1="178.65" x2="365.50" y2="178.65" stroke="#000" stroke-width="1.25"/>
<line x1="372.50" y1="185.04" x2="383.50" y2="185.04" stroke="#000" stroke-width="1.25"/>
<line x1="359.20" y1="197.82" x2="360.00" y2="197.82" stroke="#000" stroke-width="1.25"/>
<line x1="353.50" y1="204.21" x2="359.00" y2="204.21" stroke="#000" stroke-width="1.25"/>
<line x1="384.00" y1="204.21" x2="396.00" y2="204.21" stroke="#000" stroke-width="1.25"/>
<line x1="396.70" y1="178.65" x2="399.00" y2="178.65" stroke="#000" stroke-width="1.25"/>
<line x1="403.50" y1="197.82" x2="417.50" y2="197.82" stroke="#000" stroke-width="1.25"/>
<line x1="418.00" y1="204.21" x2="449.60" y2="204.21" stroke="#000" stroke-width="1.25"/>
<line x1="450.40" y1="197.82" x2="458.00" y2="197.82" stroke="#000" stroke-width="1.25"/>
<line x1="457.50" y1="191.43" x2="461.00" y2="191.43" stroke="#000" stroke-width="1.25"/>
<line x1="479.40" y1="191.43" x2="483.50" y2="191.43" stroke="#000" stroke-width="1.25"/>
<line x1="482.70" y1="197.82" x2="517.00" y2="197.82" stroke="#000" stroke-width="1.25"/>
<text x="300.00" y="141.40" font-size="7.8" text-anchor="start" font-weight="bold" fill="#000" style="stroke-width:0.4px;stroke:#000">20</text>
<text x="304.00" y="141.40" font-size="7.8" text-anchor="start" font-weight="bold" fill="#000" style="stroke-width:0.4px;stroke:#000">20</text>
<text x="310.60" y="141.40" font-size="7.8" text-anchor="start" font-weight="bold" fill="#000" style="stroke-width:0.4px;stroke:#000">20</text>
<text x="330.80" y="141.40" font-size="7.8" text-anchor="start" font-weight="bold" fill="#000" style="stroke-width:0.4px;stroke:#000">20</text>
<text x="352.80" y="141.40" font-size="7.8" text-anchor="start" font-weight="bold" fill="#000" style="stroke-width:0.4px;stroke:#000">20</text>
<text x="360.60" y="141.40" font-size="7.8" text-anchor="start" font-weight="bold" fill="#000" style="stroke-width:0.4px;stroke:#000">20</text>
<text x="376.00" y="141.40" font-size="7.8" text-anchor="start" font-weight="bold" fill="#000" style="stroke-width:0.4px;stroke:#000">20</text>
<text x="379.80" y="141.40" font-size="7.8" text-anchor="start" font-weight="bold" fill="#000" style="stroke-width:0.4px;stroke:#000">20</text>
<text x="383.60" y="141.40" font-size="7.8" text-anchor="start" font-weight="bold" fill="#000" style="stroke-width:0.4px;stroke:#000">20</text>
<line x1="304.00" y1="141.00" x2="308.60" y2="146.50" stroke="#333" stroke-width="0.6"/>
<line x1="309.00" y1="141.00" x2="311.10" y2="146.50" stroke="#333" stroke-width="0.6"/>
<line x1="313.00" y1="141.00" x2="313.30" y2="146.50" stroke="#333" stroke-width="0.6"/>
<line x1="316.00" y1="141.00" x2="319.10" y2="146.50" stroke="#333" stroke-width="0.6"/>
<line x1="334.00" y1="141.00" x2="334.00" y2="146.50" stroke="#333" stroke-width="0.6"/>
<line x1="337.00" y1="141.00" x2="339.00" y2="146.50" stroke="#333" stroke-width="0.6"/>
<line x1="357.00" y1="141.00" x2="361.30" y2="146.50" stroke="#333" stroke-width="0.6"/>
<line x1="362.00" y1="141.00" x2="364.60" y2="146.50" stroke="#333" stroke-width="0.6"/>
<line x1="365.00" y1="141.00" x2="367.10" y2="146.50" stroke="#333" stroke-width="0.6"/>
<line x1="381.00" y1="141.00" x2="384.00" y2="146.50" stroke="#333" stroke-width="0.6"/>
<line x1="386.00" y1="141.00" x2="384.00" y2="146.50" stroke="#333" stroke-width="0.6"/>
<rect x="289.20" y="245.80" width="74.00" height="43.10" fill="#f4f4f4"/>
<rect x="289.20" y="276.75" width="74.00" height="7.90" fill="#e4e4e4"/>
<rect x="289.20" y="260.95" width="74.00" height="7.90" fill="#e4e4e4"/>
<rect x="289.20" y="245.80" width="74.00" height="7.25" fill="#e4e4e4"/>
<line x1="300.00" y1="280.70" x2="363.00" y2="280.70" stroke="#f0c020" stroke-width="0.9" stroke-dasharray="3.5 2.8"/>
<line x1="300.00" y1="272.80" x2="363.20" y2="272.80" stroke="#1a1a1a" stroke-width="1.0"/>
<line x1="321.80" y1="256.60" x2="321.80" y2="288.40" stroke="#222" stroke-width="1.1"/>
<line x1="319.40" y1="250.90" x2="321.80" y2="256.60" stroke="#111" stroke-width="0.8"/>
<line x1="324.20" y1="250.90" x2="321.80" y2="256.60" stroke="#111" stroke-width="0.8"/>
<text x="319.20" y="250.30" font-size="6.4" text-anchor="middle" font-weight="normal" fill="#000">15</text>
<text x="325.40" y="250.30" font-size="6.4" text-anchor="middle" font-weight="normal" fill="#000">8</text>
<text x="321.80" y="297.30" font-size="6.4" text-anchor="middle" font-weight="normal" fill="#0d0d0d">IGL</text>
<text x="326.00" y="233.80" font-size="7.6" text-anchor="middle" font-weight="normal" fill="#0d0d0d">Chr 22</text>
<rect x="365.20" y="243.00" width="73.60" height="45.90" fill="#f4f4f4"/>
<rect x="365.20" y="277.82" width="73.60" height="7.05" fill="#e4e4e4"/>
<rect x="365.20" y="263.72" width="73.60" height="7.05" fill="#e4e4e4"/>
<rect x="365.20" y="249.62" width="73.60" height="7.05" fill="#e4e4e4"/>
<line x1="365.20" y1="281.35" x2="438.80" y2="281.35" stroke="#f0c020" stroke-width="0.9" stroke-dasharray="3.5 2.8"/>
<line x1="365.20" y1="267.25" x2="438.80" y2="267.25" stroke="#1a1a1a" stroke-width="1.0"/>
<line x1="395.30" y1="253.50" x2="395.30" y2="288.40" stroke="#222" stroke-width="1.1"/>
<line x1="392.90" y1="247.80" x2="395.30" y2="253.50" stroke="#111" stroke-width="0.8"/>
<line x1="397.70" y1="247.80" x2="395.30" y2="253.50" stroke="#111" stroke-width="0.8"/>
<text x="393.10" y="247.20" font-size="6.4" text-anchor="middle" font-weight="normal" fill="#000">22</text>
<text x="399.10" y="247.20" font-size="6.4" text-anchor="middle" font-weight="normal" fill="#000">8</text>
<text x="402.00" y="233.20" font-size="7.6" text-anchor="middle" font-weight="normal" fill="#0d0d0d">Chr 15</text>
<rect x="441.20" y="246.80" width="76.40" height="42.10" fill="#f4f4f4"/>
<rect x="441.20" y="277.45" width="76.40" height="7.70" fill="#e4e4e4"/>
<rect x="441.20" y="262.05" width="76.40" height="7.70" fill="#e4e4e4"/>
<rect x="441.20" y="246.80" width="76.40" height="7.55" fill="#e4e4e4"/>
<line x1="441.20" y1="281.30" x2="503.00" y2="281.30" stroke="#f0c020" stroke-width="0.9" stroke-dasharray="3.5 2.8"/>
<line x1="441.20" y1="273.60" x2="506.30" y2="273.60" stroke="#1a1a1a" stroke-width="1.0"/>
<line x1="472.70" y1="256.90" x2="472.70" y2="288.40" stroke="#222" stroke-width="1.1"/>
<line x1="470.30" y1="251.20" x2="472.70" y2="256.90" stroke="#111" stroke-width="0.8"/>
<line x1="475.10" y1="251.20" x2="472.70" y2="256.90" stroke="#111" stroke-width="0.8"/>
<text x="469.90" y="250.60" font-size="6.4" text-anchor="middle" font-weight="normal" fill="#000">22</text>
<text x="475.90" y="250.60" font-size="6.4" text-anchor="middle" font-weight="normal" fill="#000">15</text>
<text x="472.70" y="297.30" font-size="6.4" text-anchor="middle" font-weight="normal" fill="#0d0d0d">MYC</text>
<text x="480.00" y="233.20" font-size="7.6" text-anchor="middle" font-weight="normal" fill="#0d0d0d">Chr 8</text>
<rect x="335.30" y="271.80" width="1.40" height="2.20" fill="#ebebeb"/>
<rect x="335.60" y="280.30" width="1.00" height="1.00" fill="#333"/>
<rect x="335.40" y="287.30" width="1.40" height="0.80" fill="#f0c020"/>
<line x1="283.40" y1="288.10" x2="289.20" y2="288.10" stroke="#444" stroke-width="0.9"/>
<text x="280.60" y="290.50" font-size="7.8" text-anchor="end" font-weight="normal" fill="#0d0d0d">0</text>
<line x1="283.40" y1="280.42" x2="289.20" y2="280.42" stroke="#444" stroke-width="0.9"/>
<text x="280.60" y="282.82" font-size="7.8" text-anchor="end" font-weight="normal" fill="#0d0d0d">1</text>
<line x1="283.40" y1="272.74" x2="289.20" y2="272.74" stroke="#444" stroke-width="0.9"/>
<text x="280.60" y="275.14" font-size="7.8" text-anchor="end" font-weight="normal" fill="#0d0d0d">2</text>
<line x1="283.40" y1="265.06" x2="289.20" y2="265.06" stroke="#444" stroke-width="0.9"/>
<text x="280.60" y="267.46" font-size="7.8" text-anchor="end" font-weight="normal" fill="#0d0d0d">3</text>
<line x1="283.40" y1="257.38" x2="289.20" y2="257.38" stroke="#444" stroke-width="0.9"/>
<text x="280.60" y="259.78" font-size="7.8" text-anchor="end" font-weight="normal" fill="#0d0d0d">4</text>
<line x1="283.40" y1="249.70" x2="289.20" y2="249.70" stroke="#444" stroke-width="0.9"/>
<text x="280.60" y="252.10" font-size="7.8" text-anchor="end" font-weight="normal" fill="#0d0d0d">5</text>
<text transform="translate(264.40,270.20) rotate(-90) scale(1.0,1)" font-size="9.0" text-anchor="middle" fill="#0d0d0d">Copy Number</text>
</svg>
</body></html>
